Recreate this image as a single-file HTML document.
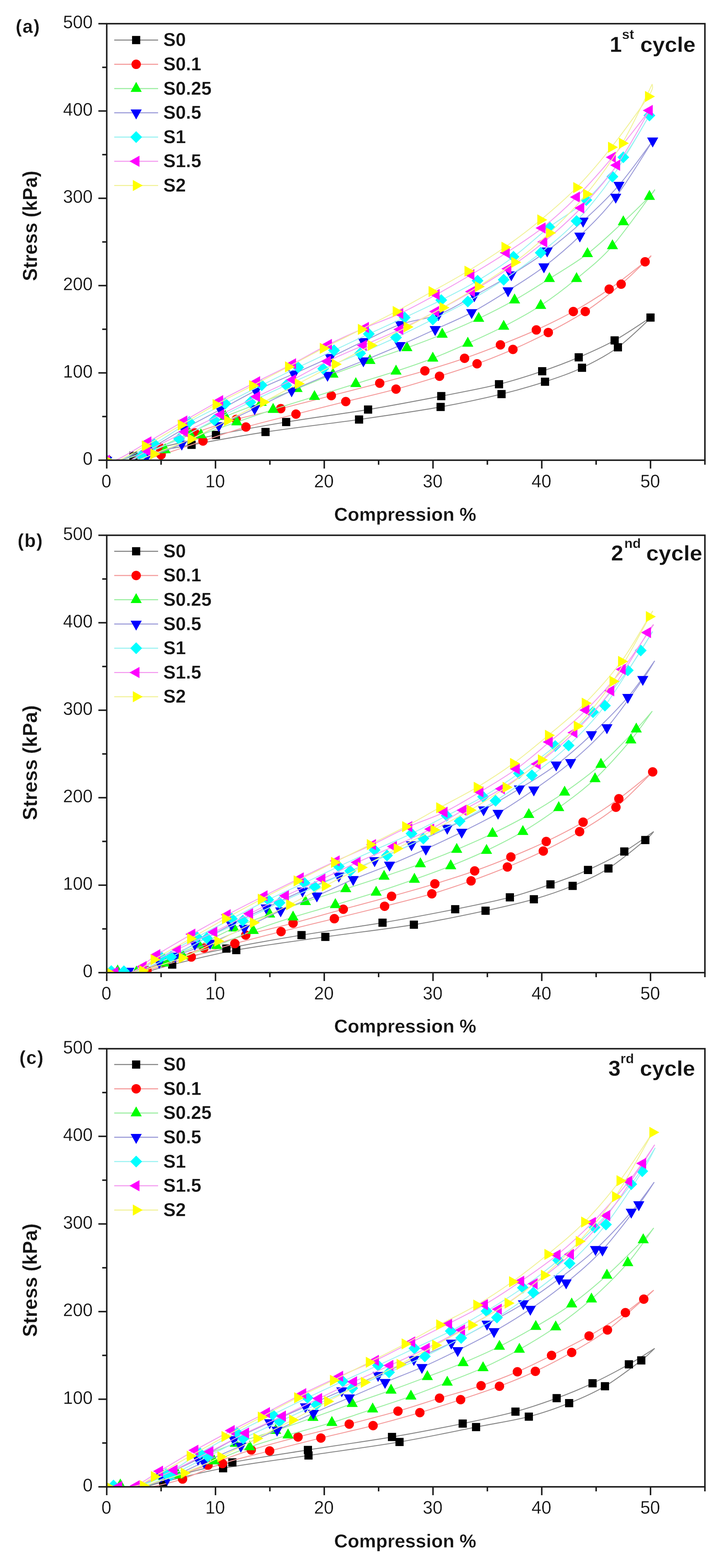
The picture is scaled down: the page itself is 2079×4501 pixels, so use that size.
<!DOCTYPE html><html><head><meta charset="utf-8"><title>Stress vs Compression</title>
<style>html,body{margin:0;padding:0;background:#fff;}svg{display:block;filter:blur(0.6px);}svg text{fill:#141414;stroke:#fff;stroke-width:0.4px;}</style></head><body>
<svg width="2079" height="4501" viewBox="0 0 2079 4501" font-family="'Liberation Sans', Arial, Helvetica, sans-serif" fill="#000">
<rect width="2079" height="4501" fill="#fff"/>
<clipPath id="clip0"><rect x="306.5" y="68" width="1717.7" height="1253"/></clipPath>
<g clip-path="url(#clip0)">
<path d="M306.5,1321C312.7,1320.8 323.2,1324.6 344,1319.7C364.8,1314.9 385.4,1304 431.4,1292.2C477.4,1280.3 555,1262 620,1248.6C685.1,1235.1 749,1223.6 821.8,1211.5C894.6,1199.3 982.7,1188.1 1057,1175.7C1131.2,1163.2 1204.5,1149.2 1267.1,1137.1C1329.8,1124.9 1384.7,1114.9 1433,1103C1481.3,1091.1 1518.8,1078.5 1556.9,1065.6C1595.1,1052.8 1627.2,1040.5 1661.9,1025.8C1696.5,1011 1730.6,996.2 1764.9,977.2C1799.3,958.1 1849.8,923.1 1868,911.5C1886.2,899.9 1873.2,908.2 1874.2,907.5" fill="none" stroke="#858585" stroke-width="2.6" stroke-linejoin="round"/>
<path d="M1874.2,907.5C1857.6,922.4 1808.1,972.3 1774.3,997C1740.5,1021.7 1706.1,1039.2 1671.3,1055.6C1636.4,1072.1 1603.6,1083.1 1565.1,1095.7C1526.6,1108.3 1490.1,1119.2 1440.1,1131.3C1390.2,1143.4 1333.4,1156 1265.3,1168.1C1197.1,1180.3 1114.8,1192.2 1031,1204.2C947.2,1216.2 842.6,1227.9 762.5,1240.1C682.3,1252.2 613.3,1265.5 550.1,1276.9C486.9,1288.3 415.3,1301.1 383,1308.5C350.7,1315.8 360.9,1318.9 356.5,1321" fill="none" stroke="#858585" stroke-width="2.6" stroke-linejoin="round"/>
<rect x="294.8" y="1309.2" width="23.5" height="23.5" fill="#000000"/>
<rect x="608.3" y="1236.8" width="23.5" height="23.5" fill="#000000"/>
<rect x="810" y="1199.7" width="23.5" height="23.5" fill="#000000"/>
<rect x="1045.2" y="1163.9" width="23.5" height="23.5" fill="#000000"/>
<rect x="1255.4" y="1125.3" width="23.5" height="23.5" fill="#000000"/>
<rect x="1421.2" y="1091.2" width="23.5" height="23.5" fill="#000000"/>
<rect x="1545.2" y="1053.9" width="23.5" height="23.5" fill="#000000"/>
<rect x="1650.1" y="1014" width="23.5" height="23.5" fill="#000000"/>
<rect x="1753.2" y="965.4" width="23.5" height="23.5" fill="#000000"/>
<rect x="1856.2" y="899.8" width="23.5" height="23.5" fill="#000000"/>
<rect x="371.3" y="1296.7" width="23.5" height="23.5" fill="#000000"/>
<rect x="538.3" y="1265.1" width="23.5" height="23.5" fill="#000000"/>
<rect x="750.7" y="1228.3" width="23.5" height="23.5" fill="#000000"/>
<rect x="1019.3" y="1192.5" width="23.5" height="23.5" fill="#000000"/>
<rect x="1253.5" y="1156.4" width="23.5" height="23.5" fill="#000000"/>
<rect x="1428.4" y="1119.5" width="23.5" height="23.5" fill="#000000"/>
<rect x="1553.3" y="1084" width="23.5" height="23.5" fill="#000000"/>
<rect x="1659.5" y="1043.9" width="23.5" height="23.5" fill="#000000"/>
<rect x="1762.6" y="985.2" width="23.5" height="23.5" fill="#000000"/>
<path d="M306.5,1321C313.8,1320.8 324.9,1325.8 350.2,1319.7C375.6,1313.6 423.7,1297.2 458.6,1284.4C493.5,1271.6 522.9,1256.2 559.5,1242.8C596.1,1229.4 637,1215.6 678.1,1204C719.3,1192.3 760.6,1184.3 806.2,1172.9C851.7,1161.5 904,1148 951.4,1135.8C998.8,1123.7 1045.6,1111.9 1090.4,1100C1135.1,1088.1 1179.4,1076.3 1220,1064.4C1260.6,1052.5 1297.8,1041 1334,1028.5C1370.1,1016.1 1402.7,1003.5 1437,990C1471.4,976.4 1505.2,963.1 1540.1,947.1C1575,931.1 1611.4,913.7 1646.3,894.2C1681.1,874.7 1715,853.9 1749.3,830.1C1783.7,806.3 1832.3,767.4 1852.4,751.4C1872.5,735.3 1867,736.8 1869.9,733.8" fill="none" stroke="#f49a9a" stroke-width="2.6" stroke-linejoin="round"/>
<path d="M1869.9,733.8C1855.5,747.5 1815.2,789.1 1783.7,815.8C1752.1,842.5 1715.5,871.1 1680.6,894.2C1645.7,917.3 1609.1,936.2 1574.4,954.4C1539.8,972.5 1507,988 1472.9,1003C1438.8,1018 1405,1031.5 1369.9,1044.3C1334.7,1057.2 1300.9,1067.8 1262.1,1079.9C1223.4,1092 1182.1,1104.9 1137.2,1117C1092.4,1129.2 1040.8,1140.9 992.9,1152.8C945,1164.8 897.7,1176.5 849.9,1188.7C802.1,1200.8 750.7,1212.9 706.2,1225.8C661.7,1238.6 623.5,1252.5 582.9,1265.9C542.3,1279.2 492.1,1296.5 462.6,1305.7C433.2,1314.9 415.8,1318.5 406.4,1321" fill="none" stroke="#f49a9a" stroke-width="2.6" stroke-linejoin="round"/>
<circle cx="306.5" cy="1321" r="13.5" fill="#ff0000"/>
<circle cx="458.6" cy="1284.4" r="13.5" fill="#ff0000"/>
<circle cx="559.5" cy="1242.8" r="13.5" fill="#ff0000"/>
<circle cx="678.1" cy="1204" r="13.5" fill="#ff0000"/>
<circle cx="806.2" cy="1172.9" r="13.5" fill="#ff0000"/>
<circle cx="951.4" cy="1135.8" r="13.5" fill="#ff0000"/>
<circle cx="1090.4" cy="1100" r="13.5" fill="#ff0000"/>
<circle cx="1220" cy="1064.4" r="13.5" fill="#ff0000"/>
<circle cx="1334" cy="1028.5" r="13.5" fill="#ff0000"/>
<circle cx="1437" cy="990" r="13.5" fill="#ff0000"/>
<circle cx="1540.1" cy="947.1" r="13.5" fill="#ff0000"/>
<circle cx="1646.3" cy="894.2" r="13.5" fill="#ff0000"/>
<circle cx="1749.3" cy="830.1" r="13.5" fill="#ff0000"/>
<circle cx="1852.4" cy="751.4" r="13.5" fill="#ff0000"/>
<circle cx="462.6" cy="1305.7" r="13.5" fill="#ff0000"/>
<circle cx="582.9" cy="1265.9" r="13.5" fill="#ff0000"/>
<circle cx="706.2" cy="1225.8" r="13.5" fill="#ff0000"/>
<circle cx="849.9" cy="1188.7" r="13.5" fill="#ff0000"/>
<circle cx="992.9" cy="1152.8" r="13.5" fill="#ff0000"/>
<circle cx="1137.2" cy="1117" r="13.5" fill="#ff0000"/>
<circle cx="1262.1" cy="1079.9" r="13.5" fill="#ff0000"/>
<circle cx="1369.9" cy="1044.3" r="13.5" fill="#ff0000"/>
<circle cx="1472.9" cy="1003" r="13.5" fill="#ff0000"/>
<circle cx="1574.4" cy="954.4" r="13.5" fill="#ff0000"/>
<circle cx="1680.6" cy="894.2" r="13.5" fill="#ff0000"/>
<circle cx="1783.7" cy="815.8" r="13.5" fill="#ff0000"/>
<path d="M306.5,1321C313.8,1320.8 327.8,1324.8 350.2,1319.7C372.6,1314.7 408.5,1303.7 440.8,1290.9C473.1,1278.2 509.5,1259.2 543.8,1243.3C578.2,1227.4 612.6,1210.3 646.9,1195.7C681.3,1181.1 715.6,1168.9 750,1155.6C784.3,1142.3 818.7,1129.3 853,1115.8C887.4,1102.2 921.2,1087.8 956.1,1074.4C991,1061 1026.9,1048 1062.3,1035.3C1097.7,1022.7 1133.8,1011 1168.4,998.5C1203.1,985.9 1235.6,973.9 1269.9,959.9C1304.3,945.9 1340,930.7 1374.6,914.3C1409.2,897.9 1443.8,880.4 1477.6,861.4C1511.5,842.4 1542.7,822.1 1577.6,800C1612.4,777.9 1651.5,755.7 1686.9,728.6C1722.3,701.4 1760.3,664.5 1789.9,637.1C1819.6,609.7 1849.8,579.7 1864.9,564.2C1880,548.7 1877.9,547.5 1880.5,544.1" fill="none" stroke="#9aeea0" stroke-width="2.6" stroke-linejoin="round"/>
<path d="M1880.5,544.1C1860.2,571.1 1796.2,663.1 1758.7,705.8C1721.2,748.4 1690,771.4 1655.6,800C1621.3,828.6 1587.5,854.3 1552.6,877.2C1517.7,900 1481.3,919 1446.4,937.1C1411.5,955.2 1377.3,970.5 1343.3,985.7C1309.4,1000.9 1277.1,1015.2 1242.8,1028.5C1208.4,1041.9 1174.1,1053.5 1137.2,1065.6C1100.4,1077.8 1060.7,1089.3 1021.7,1101.5C982.6,1113.6 942.6,1126.2 903,1138.6C863.4,1150.9 821.5,1163.5 784.3,1175.7C747.2,1187.8 714.6,1199.3 680,1211.5C645.4,1223.6 611.3,1235.3 577,1248.6C542.7,1261.9 502.1,1279.4 474.2,1291.4C446.3,1303.5 420.3,1316.1 409.6,1321" fill="none" stroke="#9aeea0" stroke-width="2.6" stroke-linejoin="round"/>
<polygon points="306.5,1301.9 322.5,1330.5 290.5,1330.5" fill="#00ff00"/>
<polygon points="543.8,1224.2 559.8,1252.8 527.8,1252.8" fill="#00ff00"/>
<polygon points="646.9,1176.6 662.9,1205.2 630.9,1205.2" fill="#00ff00"/>
<polygon points="750,1136.5 766,1165.1 734,1165.1" fill="#00ff00"/>
<polygon points="853,1096.7 869,1125.3 837,1125.3" fill="#00ff00"/>
<polygon points="956.1,1055.3 972.1,1083.9 940.1,1083.9" fill="#00ff00"/>
<polygon points="1062.3,1016.2 1078.3,1044.8 1046.3,1044.8" fill="#00ff00"/>
<polygon points="1168.4,979.4 1184.4,1008 1152.4,1008" fill="#00ff00"/>
<polygon points="1269.9,940.8 1285.9,969.4 1253.9,969.4" fill="#00ff00"/>
<polygon points="1374.6,895.2 1390.6,923.8 1358.6,923.8" fill="#00ff00"/>
<polygon points="1477.6,842.3 1493.6,870.9 1461.6,870.9" fill="#00ff00"/>
<polygon points="1577.6,780.9 1593.6,809.5 1561.6,809.5" fill="#00ff00"/>
<polygon points="1686.9,709.5 1702.9,738.1 1670.9,738.1" fill="#00ff00"/>
<polygon points="1789.9,618 1805.9,646.6 1773.9,646.6" fill="#00ff00"/>
<polygon points="1864.9,545.1 1880.9,573.7 1848.9,573.7" fill="#00ff00"/>
<polygon points="474.2,1272.4 490.2,1301 458.2,1301" fill="#00ff00"/>
<polygon points="577,1229.5 593,1258.1 561,1258.1" fill="#00ff00"/>
<polygon points="680,1192.4 696,1221 664,1221" fill="#00ff00"/>
<polygon points="784.3,1156.6 800.3,1185.2 768.3,1185.2" fill="#00ff00"/>
<polygon points="903,1119.5 919,1148.1 887,1148.1" fill="#00ff00"/>
<polygon points="1021.7,1082.4 1037.7,1111 1005.7,1111" fill="#00ff00"/>
<polygon points="1137.2,1046.6 1153.2,1075.2 1121.2,1075.2" fill="#00ff00"/>
<polygon points="1242.8,1009.5 1258.8,1038.1 1226.8,1038.1" fill="#00ff00"/>
<polygon points="1343.3,966.6 1359.3,995.2 1327.3,995.2" fill="#00ff00"/>
<polygon points="1446.4,918 1462.4,946.6 1430.4,946.6" fill="#00ff00"/>
<polygon points="1552.6,858.1 1568.6,886.7 1536.6,886.7" fill="#00ff00"/>
<polygon points="1655.6,780.9 1671.6,809.5 1639.6,809.5" fill="#00ff00"/>
<polygon points="1758.7,686.7 1774.7,715.3 1742.7,715.3" fill="#00ff00"/>
<path d="M306.5,1321C313.3,1320.8 326.8,1325.2 347.1,1319.7C367.4,1314.3 398.1,1303.2 428.3,1288.4C458.5,1273.7 494.1,1250.1 528.2,1231.3C562.3,1212.5 598.5,1193.9 632.9,1175.7C667.2,1157.4 699.2,1138.6 734.4,1121.5C769.5,1104.4 808,1088.9 843.7,1072.9C879.3,1057 915,1041.3 948.3,1025.8C981.6,1010.3 1010,995.7 1043.5,979.9C1077.1,964.2 1113.8,944.1 1149.7,931.3C1185.6,918.5 1223.6,916.8 1259,903C1294.4,889.2 1327.2,867.7 1362.1,848.6C1396.9,829.5 1433.4,809.9 1468.3,788.5C1503.1,767 1537,745.7 1571.3,720.1C1605.7,694.4 1640,665.8 1674.4,634.4C1708.7,602.9 1744.1,570 1777.4,531.6C1810.7,493.3 1858.1,425.5 1874.2,404.3" fill="none" stroke="#9a9ad8" stroke-width="2.6" stroke-linejoin="round"/>
<path d="M1874.2,404.3C1856.5,431.2 1802.9,520.2 1768.1,565.7C1733.2,611.2 1699.4,643.9 1665,677.2C1630.7,710.5 1596.3,739.5 1561.9,765.7C1527.6,791.9 1493.5,812.4 1458.9,834.3C1424.3,856.2 1389.1,878.4 1354.3,897C1319.4,915.5 1283.9,929.9 1249.6,945.6C1215.3,961.3 1182.8,976.5 1148.5,991.5C1114.1,1006.5 1078.2,1021.3 1043.5,1035.6C1008.9,1049.8 974.8,1062.6 940.5,1076.9C906.1,1091.2 872.3,1105.5 837.4,1121.5C802.5,1137.5 766.1,1156.2 731.2,1172.9C696.4,1189.6 663,1204.6 628.2,1221.5C593.3,1238.4 556.9,1259 522,1274.4C487.1,1289.8 441.3,1306.2 418.9,1314C396.5,1321.8 392.9,1319.8 387.7,1321" fill="none" stroke="#9a9ad8" stroke-width="2.6" stroke-linejoin="round"/>
<polygon points="306.5,1340.1 322.5,1311.5 290.5,1311.5" fill="#0000ff"/>
<polygon points="428.3,1307.5 444.3,1278.9 412.3,1278.9" fill="#0000ff"/>
<polygon points="528.2,1250.4 544.2,1221.8 512.2,1221.8" fill="#0000ff"/>
<polygon points="632.9,1194.7 648.9,1166.1 616.9,1166.1" fill="#0000ff"/>
<polygon points="734.4,1140.6 750.4,1112 718.4,1112" fill="#0000ff"/>
<polygon points="843.7,1092 859.7,1063.4 827.7,1063.4" fill="#0000ff"/>
<polygon points="948.3,1044.9 964.3,1016.3 932.3,1016.3" fill="#0000ff"/>
<polygon points="1043.5,999 1059.5,970.4 1027.5,970.4" fill="#0000ff"/>
<polygon points="1149.7,950.4 1165.7,921.8 1133.7,921.8" fill="#0000ff"/>
<polygon points="1259,922.1 1275,893.5 1243,893.5" fill="#0000ff"/>
<polygon points="1362.1,867.7 1378.1,839.1 1346.1,839.1" fill="#0000ff"/>
<polygon points="1468.3,807.5 1484.3,778.9 1452.3,778.9" fill="#0000ff"/>
<polygon points="1571.3,739.1 1587.3,710.5 1555.3,710.5" fill="#0000ff"/>
<polygon points="1674.4,653.4 1690.4,624.8 1658.4,624.8" fill="#0000ff"/>
<polygon points="1777.4,550.7 1793.4,522.1 1761.4,522.1" fill="#0000ff"/>
<polygon points="1874.2,423.4 1890.2,394.8 1858.2,394.8" fill="#0000ff"/>
<polygon points="418.9,1333 434.9,1304.4 402.9,1304.4" fill="#0000ff"/>
<polygon points="522,1293.5 538,1264.9 506,1264.9" fill="#0000ff"/>
<polygon points="628.2,1240.6 644.2,1212 612.2,1212" fill="#0000ff"/>
<polygon points="731.2,1192 747.2,1163.4 715.2,1163.4" fill="#0000ff"/>
<polygon points="837.4,1140.6 853.4,1112 821.4,1112" fill="#0000ff"/>
<polygon points="940.5,1096 956.5,1067.4 924.5,1067.4" fill="#0000ff"/>
<polygon points="1043.5,1054.6 1059.5,1026 1027.5,1026" fill="#0000ff"/>
<polygon points="1148.5,1010.5 1164.5,981.9 1132.5,981.9" fill="#0000ff"/>
<polygon points="1249.6,964.7 1265.6,936.1 1233.6,936.1" fill="#0000ff"/>
<polygon points="1354.3,916.1 1370.3,887.5 1338.3,887.5" fill="#0000ff"/>
<polygon points="1458.9,853.4 1474.9,824.8 1442.9,824.8" fill="#0000ff"/>
<polygon points="1561.9,784.7 1577.9,756.1 1545.9,756.1" fill="#0000ff"/>
<polygon points="1665,696.3 1681,667.7 1649,667.7" fill="#0000ff"/>
<polygon points="1768.1,584.8 1784.1,556.2 1752.1,556.2" fill="#0000ff"/>
<path d="M306.5,1321C312.7,1320.8 321.2,1327.5 344,1319.7C366.7,1312 409.7,1292.4 443,1274.4C476.3,1256.3 509.9,1230.8 543.8,1211.5C577.8,1192.2 612.3,1176.2 646.9,1158.6C681.5,1141 716.7,1123.1 751.5,1105.7C786.4,1088.4 821.5,1071 856.1,1054.4C890.8,1037.7 925.4,1021.7 959.2,1005.7C993,989.8 1025.3,974.3 1059.1,958.6C1093,942.9 1127.5,927.7 1162.2,911.5C1196.9,895.3 1232.3,879 1267.1,861.4C1302,843.8 1336.9,826.5 1371.4,805.8C1406,785.1 1440.1,762.7 1474.5,737.1C1508.9,711.5 1542.7,679 1577.6,651.9C1612.4,624.7 1648.3,607.6 1683.7,574.2C1719.1,540.8 1759.7,491.9 1789.9,451.4C1820.1,410.9 1852.4,351.4 1864.9,331.4" fill="none" stroke="#9af2f2" stroke-width="2.6" stroke-linejoin="round"/>
<path d="M1864.9,331.4C1847.2,360.7 1793.6,456.6 1758.7,507.1C1723.8,557.5 1690,597.9 1655.6,634.4C1621.3,670.8 1587.5,697.5 1552.6,725.6C1517.7,753.7 1481.3,779.7 1446.4,803C1411.5,826.3 1377.3,846.4 1343.3,865.4C1309.4,884.4 1277.1,899.8 1242.8,917C1208.4,934.2 1172,952.5 1137.2,968.7C1102.4,984.9 1069,999.3 1034.2,1014.3C999.3,1029.3 963.4,1043.4 928,1058.6C892.6,1073.9 856.7,1089.8 821.8,1105.7C786.9,1121.7 753.1,1137.7 718.7,1154.4C684.4,1171 649.8,1188.1 615.7,1205.7C581.6,1223.3 549.2,1243 514.2,1260.1C479.2,1277.2 428.5,1298.3 405.8,1308.5C383.2,1318.6 382.9,1318.9 378.3,1321" fill="none" stroke="#9af2f2" stroke-width="2.6" stroke-linejoin="round"/>
<polygon points="306.5,1304 323.5,1321 306.5,1338 289.5,1321" fill="#00ffff"/>
<polygon points="443,1257.4 460,1274.4 443,1291.4 426,1274.4" fill="#00ffff"/>
<polygon points="543.8,1194.5 560.8,1211.5 543.8,1228.5 526.8,1211.5" fill="#00ffff"/>
<polygon points="646.9,1141.6 663.9,1158.6 646.9,1175.6 629.9,1158.6" fill="#00ffff"/>
<polygon points="751.5,1088.7 768.5,1105.7 751.5,1122.7 734.5,1105.7" fill="#00ffff"/>
<polygon points="856.1,1037.4 873.1,1054.4 856.1,1071.4 839.1,1054.4" fill="#00ffff"/>
<polygon points="959.2,988.7 976.2,1005.7 959.2,1022.7 942.2,1005.7" fill="#00ffff"/>
<polygon points="1059.1,941.6 1076.1,958.6 1059.1,975.6 1042.1,958.6" fill="#00ffff"/>
<polygon points="1162.2,894.5 1179.2,911.5 1162.2,928.5 1145.2,911.5" fill="#00ffff"/>
<polygon points="1267.1,844.4 1284.1,861.4 1267.1,878.4 1250.1,861.4" fill="#00ffff"/>
<polygon points="1371.4,788.8 1388.4,805.8 1371.4,822.8 1354.4,805.8" fill="#00ffff"/>
<polygon points="1474.5,720.1 1491.5,737.1 1474.5,754.1 1457.5,737.1" fill="#00ffff"/>
<polygon points="1577.6,634.9 1594.6,651.9 1577.6,668.9 1560.6,651.9" fill="#00ffff"/>
<polygon points="1683.7,557.2 1700.7,574.2 1683.7,591.2 1666.7,574.2" fill="#00ffff"/>
<polygon points="1789.9,434.4 1806.9,451.4 1789.9,468.4 1772.9,451.4" fill="#00ffff"/>
<polygon points="1864.9,314.4 1881.9,331.4 1864.9,348.4 1847.9,331.4" fill="#00ffff"/>
<polygon points="405.8,1291.5 422.8,1308.5 405.8,1325.5 388.8,1308.5" fill="#00ffff"/>
<polygon points="514.2,1243.1 531.2,1260.1 514.2,1277.1 497.2,1260.1" fill="#00ffff"/>
<polygon points="615.7,1188.7 632.7,1205.7 615.7,1222.7 598.7,1205.7" fill="#00ffff"/>
<polygon points="718.7,1137.4 735.7,1154.4 718.7,1171.4 701.7,1154.4" fill="#00ffff"/>
<polygon points="821.8,1088.7 838.8,1105.7 821.8,1122.7 804.8,1105.7" fill="#00ffff"/>
<polygon points="928,1041.6 945,1058.6 928,1075.6 911,1058.6" fill="#00ffff"/>
<polygon points="1034.2,997.3 1051.2,1014.3 1034.2,1031.3 1017.2,1014.3" fill="#00ffff"/>
<polygon points="1137.2,951.7 1154.2,968.7 1137.2,985.7 1120.2,968.7" fill="#00ffff"/>
<polygon points="1242.8,900 1259.8,917 1242.8,934 1225.8,917" fill="#00ffff"/>
<polygon points="1343.3,848.4 1360.3,865.4 1343.3,882.4 1326.3,865.4" fill="#00ffff"/>
<polygon points="1446.4,786 1463.4,803 1446.4,820 1429.4,803" fill="#00ffff"/>
<polygon points="1552.6,708.6 1569.6,725.6 1552.6,742.6 1535.6,725.6" fill="#00ffff"/>
<polygon points="1655.6,617.4 1672.6,634.4 1655.6,651.4 1638.6,634.4" fill="#00ffff"/>
<polygon points="1758.7,490.1 1775.7,507.1 1758.7,524.1 1741.7,507.1" fill="#00ffff"/>
<path d="M306.5,1321C311.7,1320.6 318,1327.2 337.7,1318.5C357.5,1309.8 393.4,1287 425.2,1268.6C456.9,1250.3 493.9,1228.2 528.2,1208.5C562.6,1188.7 596.4,1168.9 631.3,1150.1C666.2,1131.3 702.6,1113.3 737.5,1095.7C772.3,1078.1 806.2,1062.2 840.5,1044.3C874.9,1026.5 908.7,1006.1 943.6,988.7C978.5,971.3 1015.6,954.9 1049.8,940.1C1083.9,925.3 1114.6,915.7 1148.5,900C1182.3,884.2 1218.7,864.2 1252.8,845.6C1286.8,827 1319.1,808.5 1352.7,788.5C1386.3,768.5 1420.2,747.9 1454.2,725.6C1488.2,703.2 1523.4,681.1 1556.9,654.4C1590.5,627.8 1622,599.5 1655.6,565.7C1689.3,531.9 1723.8,492.9 1758.7,451.4C1793.6,410 1847.2,339.5 1864.9,317.1" fill="none" stroke="#f49af0" stroke-width="2.6" stroke-linejoin="round"/>
<path d="M1864.9,317.1C1849.3,343.3 1804,427.6 1771.2,474.2C1738.4,520.9 1703,560.3 1668.1,597C1633.3,633.7 1596.8,665.4 1561.9,694.5C1527.1,723.6 1493.5,747.7 1458.9,771.4C1424.3,795.2 1388.9,816.6 1354.3,837.1C1319.7,857.6 1285.5,876.1 1251.2,894.2C1216.9,912.3 1183.1,929.4 1148.5,945.6C1113.8,961.8 1078.2,976.2 1043.5,991.5C1008.9,1006.7 974.3,1020.7 940.5,1037.1C906.6,1053.5 874.4,1073 840.5,1089.9C806.7,1106.9 771.8,1121.9 737.5,1138.6C703.1,1155.2 668.8,1173 634.4,1189.9C600.1,1206.9 566.6,1222.7 531.4,1240.1C496.1,1257.4 449,1280.7 423,1294.2C397,1307.7 383.2,1316.5 375.2,1321" fill="none" stroke="#f49af0" stroke-width="2.6" stroke-linejoin="round"/>
<polygon points="287.4,1321 316,1305 316,1337" fill="#ff00ff"/>
<polygon points="406.1,1268.6 434.7,1252.6 434.7,1284.6" fill="#ff00ff"/>
<polygon points="509.2,1208.5 537.8,1192.5 537.8,1224.5" fill="#ff00ff"/>
<polygon points="612.2,1150.1 640.8,1134.1 640.8,1166.1" fill="#ff00ff"/>
<polygon points="718.4,1095.7 747,1079.7 747,1111.7" fill="#ff00ff"/>
<polygon points="821.5,1044.3 850.1,1028.3 850.1,1060.3" fill="#ff00ff"/>
<polygon points="924.5,988.7 953.1,972.7 953.1,1004.7" fill="#ff00ff"/>
<polygon points="1030.7,940.1 1059.3,924.1 1059.3,956.1" fill="#ff00ff"/>
<polygon points="1129.4,900 1158,884 1158,916" fill="#ff00ff"/>
<polygon points="1233.7,845.6 1262.3,829.6 1262.3,861.6" fill="#ff00ff"/>
<polygon points="1333.6,788.5 1362.2,772.5 1362.2,804.5" fill="#ff00ff"/>
<polygon points="1435.1,725.6 1463.7,709.6 1463.7,741.6" fill="#ff00ff"/>
<polygon points="1537.9,654.4 1566.5,638.4 1566.5,670.4" fill="#ff00ff"/>
<polygon points="1636.6,565.7 1665.2,549.7 1665.2,581.7" fill="#ff00ff"/>
<polygon points="1739.6,451.4 1768.2,435.4 1768.2,467.4" fill="#ff00ff"/>
<polygon points="1845.8,317.1 1874.4,301.1 1874.4,333.1" fill="#ff00ff"/>
<polygon points="403.9,1294.2 432.5,1278.2 432.5,1310.2" fill="#ff00ff"/>
<polygon points="512.3,1240.1 540.9,1224.1 540.9,1256.1" fill="#ff00ff"/>
<polygon points="615.3,1189.9 643.9,1173.9 643.9,1205.9" fill="#ff00ff"/>
<polygon points="718.4,1138.6 747,1122.6 747,1154.6" fill="#ff00ff"/>
<polygon points="821.5,1089.9 850.1,1073.9 850.1,1105.9" fill="#ff00ff"/>
<polygon points="921.4,1037.1 950,1021.1 950,1053.1" fill="#ff00ff"/>
<polygon points="1024.5,991.5 1053.1,975.5 1053.1,1007.5" fill="#ff00ff"/>
<polygon points="1129.4,945.6 1158,929.6 1158,961.6" fill="#ff00ff"/>
<polygon points="1232.1,894.2 1260.7,878.2 1260.7,910.2" fill="#ff00ff"/>
<polygon points="1335.2,837.1 1363.8,821.1 1363.8,853.1" fill="#ff00ff"/>
<polygon points="1439.8,771.4 1468.4,755.4 1468.4,787.4" fill="#ff00ff"/>
<polygon points="1542.9,694.5 1571.5,678.5 1571.5,710.5" fill="#ff00ff"/>
<polygon points="1649.1,597 1677.7,581 1677.7,613" fill="#ff00ff"/>
<polygon points="1752.1,474.2 1780.7,458.2 1780.7,490.2" fill="#ff00ff"/>
<path d="M306.5,1321C312.7,1320.8 325.6,1326.6 344,1319.7C362.4,1312.9 387.7,1296.5 417.1,1279.9C446.4,1263.3 486.3,1239.8 520.1,1220C553.9,1200.3 585.9,1180.2 620,1161.4C654.2,1142.5 690.3,1125.1 725,1107C759.6,1088.9 794.2,1070.7 828,1052.9C861.9,1035 893.1,1017.9 928,1000C962.9,982.1 1002.4,963.2 1037.3,945.6C1072.2,928 1103.4,912.3 1137.2,894.2C1171.1,876.1 1205.9,856.4 1240.3,837.1C1274.6,817.8 1308.5,799.7 1343.3,778.5C1378.2,757.2 1414.6,734.3 1449.5,709.8C1484.4,685.3 1518.2,659.9 1552.6,631.3C1586.9,602.8 1621.8,573.4 1655.6,538.6C1689.5,503.9 1721.2,466.5 1755.6,422.8C1789.9,379.2 1842.2,307.2 1861.8,277C1881.3,246.8 1871.1,247.3 1873,241.4" fill="none" stroke="#f2f29a" stroke-width="2.6" stroke-linejoin="round"/>
<path d="M1873,241.4C1858.6,269.7 1818.3,358.7 1786.8,411.3C1755.3,463.9 1718.6,514.3 1683.7,557.2C1648.9,600.1 1611.9,636.1 1577.6,668.7C1543.2,701.3 1511.7,727.2 1477.6,752.9C1443.5,778.6 1407.4,801.1 1373,822.8C1338.7,844.5 1305.6,863.7 1271.5,883C1237.4,902.2 1202.8,920.5 1168.4,938.6C1134.1,956.7 1099.7,973.6 1065.4,991.5C1031,1009.3 997.2,1027.3 962.3,1045.6C927.5,1063.9 890.5,1083.3 856.1,1101.5C821.8,1119.6 790,1136.8 756.2,1154.4C722.4,1171.9 687.8,1189.4 653.2,1207C618.5,1224.6 583.8,1244.1 548.5,1260.1C513.2,1276.1 466.7,1292.8 441.4,1303C416.2,1313.1 404.5,1318 397.1,1321" fill="none" stroke="#f2f29a" stroke-width="2.6" stroke-linejoin="round"/>
<polygon points="325.6,1321 297,1305 297,1337" fill="#ffff00"/>
<polygon points="436.1,1279.9 407.5,1263.9 407.5,1295.9" fill="#ffff00"/>
<polygon points="539.2,1220 510.6,1204 510.6,1236" fill="#ffff00"/>
<polygon points="639.1,1161.4 610.5,1145.4 610.5,1177.4" fill="#ffff00"/>
<polygon points="744,1107 715.4,1091 715.4,1123" fill="#ffff00"/>
<polygon points="847.1,1052.9 818.5,1036.9 818.5,1068.9" fill="#ffff00"/>
<polygon points="947,1000 918.4,984 918.4,1016" fill="#ffff00"/>
<polygon points="1056.3,945.6 1027.7,929.6 1027.7,961.6" fill="#ffff00"/>
<polygon points="1156.3,894.2 1127.7,878.2 1127.7,910.2" fill="#ffff00"/>
<polygon points="1259.3,837.1 1230.7,821.1 1230.7,853.1" fill="#ffff00"/>
<polygon points="1362.4,778.5 1333.8,762.5 1333.8,794.5" fill="#ffff00"/>
<polygon points="1468.6,709.8 1440,693.8 1440,725.8" fill="#ffff00"/>
<polygon points="1571.6,631.3 1543,615.3 1543,647.3" fill="#ffff00"/>
<polygon points="1674.7,538.6 1646.1,522.6 1646.1,554.6" fill="#ffff00"/>
<polygon points="1774.6,422.8 1746,406.8 1746,438.8" fill="#ffff00"/>
<polygon points="1880.8,277 1852.2,261 1852.2,293" fill="#ffff00"/>
<polygon points="460.5,1303 431.9,1287 431.9,1319" fill="#ffff00"/>
<polygon points="567.6,1260.1 539,1244.1 539,1276.1" fill="#ffff00"/>
<polygon points="672.2,1207 643.6,1191 643.6,1223" fill="#ffff00"/>
<polygon points="775.3,1154.4 746.7,1138.4 746.7,1170.4" fill="#ffff00"/>
<polygon points="875.2,1101.5 846.6,1085.5 846.6,1117.5" fill="#ffff00"/>
<polygon points="981.4,1045.6 952.8,1029.6 952.8,1061.6" fill="#ffff00"/>
<polygon points="1084.5,991.5 1055.9,975.5 1055.9,1007.5" fill="#ffff00"/>
<polygon points="1187.5,938.6 1158.9,922.6 1158.9,954.6" fill="#ffff00"/>
<polygon points="1290.6,883 1262,867 1262,899" fill="#ffff00"/>
<polygon points="1392.1,822.8 1363.5,806.8 1363.5,838.8" fill="#ffff00"/>
<polygon points="1496.7,752.9 1468.1,736.9 1468.1,768.9" fill="#ffff00"/>
<polygon points="1596.6,668.7 1568,652.7 1568,684.7" fill="#ffff00"/>
<polygon points="1702.8,557.2 1674.2,541.2 1674.2,573.2" fill="#ffff00"/>
<polygon points="1805.9,411.3 1777.3,395.3 1777.3,427.3" fill="#ffff00"/>
</g>
<rect x="306.5" y="68" width="1717.7" height="1253" fill="none" stroke="#1c1c1c" stroke-width="4.3"/>
<line x1="282.5" y1="1321" x2="306.5" y2="1321" stroke="#1c1c1c" stroke-width="4.3"/>
<line x1="293.5" y1="1195.7" x2="306.5" y2="1195.7" stroke="#1c1c1c" stroke-width="4.3"/>
<line x1="282.5" y1="1070.4" x2="306.5" y2="1070.4" stroke="#1c1c1c" stroke-width="4.3"/>
<line x1="293.5" y1="945.1" x2="306.5" y2="945.1" stroke="#1c1c1c" stroke-width="4.3"/>
<line x1="282.5" y1="819.8" x2="306.5" y2="819.8" stroke="#1c1c1c" stroke-width="4.3"/>
<line x1="293.5" y1="694.5" x2="306.5" y2="694.5" stroke="#1c1c1c" stroke-width="4.3"/>
<line x1="282.5" y1="569.2" x2="306.5" y2="569.2" stroke="#1c1c1c" stroke-width="4.3"/>
<line x1="293.5" y1="443.9" x2="306.5" y2="443.9" stroke="#1c1c1c" stroke-width="4.3"/>
<line x1="282.5" y1="318.6" x2="306.5" y2="318.6" stroke="#1c1c1c" stroke-width="4.3"/>
<line x1="293.5" y1="193.3" x2="306.5" y2="193.3" stroke="#1c1c1c" stroke-width="4.3"/>
<line x1="282.5" y1="68" x2="306.5" y2="68" stroke="#1c1c1c" stroke-width="4.3"/>
<line x1="306.5" y1="1321" x2="306.5" y2="1345" stroke="#1c1c1c" stroke-width="4.3"/>
<line x1="462.6" y1="1321" x2="462.6" y2="1334" stroke="#1c1c1c" stroke-width="4.3"/>
<line x1="618.8" y1="1321" x2="618.8" y2="1345" stroke="#1c1c1c" stroke-width="4.3"/>
<line x1="775" y1="1321" x2="775" y2="1334" stroke="#1c1c1c" stroke-width="4.3"/>
<line x1="931.1" y1="1321" x2="931.1" y2="1345" stroke="#1c1c1c" stroke-width="4.3"/>
<line x1="1087.2" y1="1321" x2="1087.2" y2="1334" stroke="#1c1c1c" stroke-width="4.3"/>
<line x1="1243.4" y1="1321" x2="1243.4" y2="1345" stroke="#1c1c1c" stroke-width="4.3"/>
<line x1="1399.5" y1="1321" x2="1399.5" y2="1334" stroke="#1c1c1c" stroke-width="4.3"/>
<line x1="1555.7" y1="1321" x2="1555.7" y2="1345" stroke="#1c1c1c" stroke-width="4.3"/>
<line x1="1711.8" y1="1321" x2="1711.8" y2="1334" stroke="#1c1c1c" stroke-width="4.3"/>
<line x1="1868" y1="1321" x2="1868" y2="1345" stroke="#1c1c1c" stroke-width="4.3"/>
<line x1="2024.2" y1="1321" x2="2024.2" y2="1334" stroke="#1c1c1c" stroke-width="4.3"/>
<g font-size="51"><text x="266" y="1334.2" text-anchor="end">0</text><text x="266" y="1083.6" text-anchor="end">100</text><text x="266" y="833" text-anchor="end">200</text><text x="266" y="582.4" text-anchor="end">300</text><text x="266" y="331.8" text-anchor="end">400</text><text x="266" y="81.2" text-anchor="end">500</text><text x="305.5" y="1399.3" text-anchor="middle">0</text><text x="617.8" y="1399.3" text-anchor="middle">10</text><text x="930.1" y="1399.3" text-anchor="middle">20</text><text x="1242.4" y="1399.3" text-anchor="middle">30</text><text x="1554.7" y="1399.3" text-anchor="middle">40</text><text x="1867" y="1399.3" text-anchor="middle">50</text></g>
<text x="1163.6" y="1495" font-weight="bold" font-size="54" text-anchor="middle">Compression %</text>
<text font-weight="bold" font-size="54.5" text-anchor="middle" textLength="316.8" lengthAdjust="spacingAndGlyphs" transform="translate(105.8,648.4) scale(1.05,1) rotate(-90)">Stress (kPa)</text>
<text x="45" y="94.4" font-weight="bold" font-size="53" letter-spacing="2">(a)</text>
<line x1="328" y1="115" x2="454" y2="115" stroke="#858585" stroke-width="3"/>
<rect x="379.2" y="103.2" width="23.5" height="23.5" fill="#000000"/>
<text x="469" y="132.4" font-weight="bold" font-size="53">S0</text>
<line x1="328" y1="184.6" x2="454" y2="184.6" stroke="#f49a9a" stroke-width="3"/>
<circle cx="391" cy="184.6" r="13.5" fill="#ff0000"/>
<text x="469" y="202" font-weight="bold" font-size="53">S0.1</text>
<line x1="328" y1="254.2" x2="454" y2="254.2" stroke="#9aeea0" stroke-width="3"/>
<polygon points="391,235.1 407,263.7 375,263.7" fill="#00ff00"/>
<text x="469" y="271.6" font-weight="bold" font-size="53">S0.25</text>
<line x1="328" y1="323.8" x2="454" y2="323.8" stroke="#9a9ad8" stroke-width="3"/>
<polygon points="391,342.9 407,314.3 375,314.3" fill="#0000ff"/>
<text x="469" y="341.2" font-weight="bold" font-size="53">S0.5</text>
<line x1="328" y1="393.4" x2="454" y2="393.4" stroke="#9af2f2" stroke-width="3"/>
<polygon points="391,376.4 408,393.4 391,410.4 374,393.4" fill="#00ffff"/>
<text x="469" y="410.8" font-weight="bold" font-size="53">S1</text>
<line x1="328" y1="463" x2="454" y2="463" stroke="#f49af0" stroke-width="3"/>
<polygon points="371.9,463 400.5,447 400.5,479" fill="#ff00ff"/>
<text x="469" y="480.4" font-weight="bold" font-size="53">S1.5</text>
<line x1="328" y1="532.6" x2="454" y2="532.6" stroke="#f2f29a" stroke-width="3"/>
<polygon points="410.1,532.6 381.5,516.6 381.5,548.6" fill="#ffff00"/>
<text x="469" y="550" font-weight="bold" font-size="53">S2</text>
<text font-weight="bold" font-size="63"><tspan x="1750.7" y="149">1</tspan><tspan x="1786.1" y="112.2" font-size="39">st</tspan><tspan x="1838.5" y="149" font-size="62" textLength="158.8" lengthAdjust="spacingAndGlyphs">cycle</tspan></text>
<clipPath id="clip1"><rect x="306.5" y="1536.5" width="1717.7" height="1255.5"/></clipPath>
<g clip-path="url(#clip1)">
<path d="M306.5,2792C321.1,2791.8 365.3,2795.8 393.9,2790.7C422.6,2785.7 435.6,2773.2 478.3,2761.9C520.9,2750.6 585.4,2735.9 650,2722.9C714.6,2710 791.1,2696.7 865.8,2684.3C940.6,2671.9 1024.9,2661 1098.5,2648.6C1172,2636.2 1246.2,2622.1 1307.1,2610C1368.1,2597.8 1418.6,2587.7 1464.2,2575.8C1509.8,2563.9 1543.3,2551.7 1580.7,2538.6C1618.1,2525.5 1653.1,2512.9 1688.4,2497.2C1723.8,2481.5 1761.3,2462.6 1792.7,2444.2C1824.2,2425.9 1863,2396.7 1877.1,2387.2" fill="none" stroke="#858585" stroke-width="2.6" stroke-linejoin="round"/>
<path d="M1877.1,2387.2C1873,2391.2 1874.7,2393.7 1853,2411.3C1831.4,2429 1781.9,2471 1747.1,2492.9C1712.4,2514.9 1680.1,2528.2 1644.4,2542.9C1608.7,2557.6 1574.6,2569.4 1532.9,2581.3C1491.2,2593.2 1451.7,2602 1394.2,2614.2C1336.8,2626.4 1265.1,2641.9 1188.4,2654.4C1111.8,2666.9 1019.2,2677.2 934.2,2689.3C849.2,2701.4 751.7,2713.9 678.4,2727.2C605.2,2740.5 538.3,2758.1 494.5,2768.9C450.7,2779.7 428.9,2788.1 415.8,2792" fill="none" stroke="#858585" stroke-width="2.6" stroke-linejoin="round"/>
<rect x="638.3" y="2711.2" width="23.5" height="23.5" fill="#000000"/>
<rect x="854.1" y="2672.5" width="23.5" height="23.5" fill="#000000"/>
<rect x="1086.7" y="2636.9" width="23.5" height="23.5" fill="#000000"/>
<rect x="1295.4" y="2598.2" width="23.5" height="23.5" fill="#000000"/>
<rect x="1452.4" y="2564.1" width="23.5" height="23.5" fill="#000000"/>
<rect x="1568.9" y="2526.9" width="23.5" height="23.5" fill="#000000"/>
<rect x="1676.7" y="2485.5" width="23.5" height="23.5" fill="#000000"/>
<rect x="1781" y="2432.5" width="23.5" height="23.5" fill="#000000"/>
<rect x="482.8" y="2757.1" width="23.5" height="23.5" fill="#000000"/>
<rect x="666.7" y="2715.5" width="23.5" height="23.5" fill="#000000"/>
<rect x="922.5" y="2677.6" width="23.5" height="23.5" fill="#000000"/>
<rect x="1176.7" y="2642.6" width="23.5" height="23.5" fill="#000000"/>
<rect x="1382.5" y="2602.5" width="23.5" height="23.5" fill="#000000"/>
<rect x="1521.2" y="2569.6" width="23.5" height="23.5" fill="#000000"/>
<rect x="1632.6" y="2531.2" width="23.5" height="23.5" fill="#000000"/>
<rect x="1735.4" y="2481.2" width="23.5" height="23.5" fill="#000000"/>
<rect x="1841.3" y="2399.6" width="23.5" height="23.5" fill="#000000"/>
<path d="M306.5,2792C320,2791.8 360.6,2795.8 387.7,2790.7C414.8,2785.7 435.9,2773.4 468.9,2761.9C501.9,2750.3 546.2,2734.4 585.7,2721.4C625.2,2708.5 663,2696.2 705.6,2684.3C748.2,2672.4 794.8,2662.3 841.5,2649.9C888.2,2637.5 938.6,2622.8 985.8,2610C1032.9,2597.1 1080.6,2584.9 1124.4,2572.8C1168.2,2560.7 1208.9,2549.3 1248.7,2537.1C1288.5,2525 1326.6,2512.8 1363,2500C1399.4,2487.1 1432.8,2474.1 1467,2460C1501.3,2446 1533.9,2432.3 1568.5,2415.6C1603.1,2398.9 1639.6,2380.6 1674.4,2360.1C1709.1,2339.6 1743.8,2316.9 1777.1,2292.8C1810.4,2268.7 1858.1,2228.6 1874.2,2215.7" fill="none" stroke="#f49a9a" stroke-width="2.6" stroke-linejoin="round"/>
<path d="M1874.2,2215.7C1856.7,2232.6 1803.7,2288.6 1768.7,2317.2C1733.7,2345.8 1699.1,2366.3 1664.4,2387.2C1629.6,2408.2 1594.6,2426.1 1560.1,2443C1525.5,2459.9 1491.6,2474.4 1457,2488.7C1422.5,2502.9 1388.9,2515.7 1352.7,2528.6C1316.5,2541.4 1281.3,2553.6 1240,2565.8C1198.6,2577.9 1151.1,2589.5 1104.4,2601.4C1057.8,2613.3 1009.7,2624.9 960.1,2637.1C910.6,2649.2 854.7,2662.3 807.1,2674.2C759.5,2686.2 717.4,2696.5 674.4,2708.6C631.4,2720.8 591.2,2734.2 549.2,2747.1C507.1,2759.9 447.9,2778.2 422.1,2785.7C396.2,2793.2 398.6,2791 393.9,2792" fill="none" stroke="#f49a9a" stroke-width="2.6" stroke-linejoin="round"/>
<circle cx="468.9" cy="2761.9" r="13.5" fill="#ff0000"/>
<circle cx="585.7" cy="2721.4" r="13.5" fill="#ff0000"/>
<circle cx="705.6" cy="2684.3" r="13.5" fill="#ff0000"/>
<circle cx="841.5" cy="2649.9" r="13.5" fill="#ff0000"/>
<circle cx="985.8" cy="2610" r="13.5" fill="#ff0000"/>
<circle cx="1124.4" cy="2572.8" r="13.5" fill="#ff0000"/>
<circle cx="1248.7" cy="2537.1" r="13.5" fill="#ff0000"/>
<circle cx="1363" cy="2500" r="13.5" fill="#ff0000"/>
<circle cx="1467" cy="2460" r="13.5" fill="#ff0000"/>
<circle cx="1568.5" cy="2415.6" r="13.5" fill="#ff0000"/>
<circle cx="1674.4" cy="2360.1" r="13.5" fill="#ff0000"/>
<circle cx="1777.1" cy="2292.8" r="13.5" fill="#ff0000"/>
<circle cx="1874.2" cy="2215.7" r="13.5" fill="#ff0000"/>
<circle cx="422.1" cy="2785.7" r="13.5" fill="#ff0000"/>
<circle cx="549.2" cy="2747.1" r="13.5" fill="#ff0000"/>
<circle cx="674.4" cy="2708.6" r="13.5" fill="#ff0000"/>
<circle cx="807.1" cy="2674.2" r="13.5" fill="#ff0000"/>
<circle cx="960.1" cy="2637.1" r="13.5" fill="#ff0000"/>
<circle cx="1104.4" cy="2601.4" r="13.5" fill="#ff0000"/>
<circle cx="1240" cy="2565.8" r="13.5" fill="#ff0000"/>
<circle cx="1352.7" cy="2528.6" r="13.5" fill="#ff0000"/>
<circle cx="1457" cy="2488.7" r="13.5" fill="#ff0000"/>
<circle cx="1560.1" cy="2443" r="13.5" fill="#ff0000"/>
<circle cx="1664.4" cy="2387.2" r="13.5" fill="#ff0000"/>
<circle cx="1768.7" cy="2317.2" r="13.5" fill="#ff0000"/>
<path d="M306.5,2792C321.1,2791.6 366.4,2795.8 393.9,2789.5C421.5,2783.2 442.5,2767.1 472,2754.3C501.6,2741.6 538.1,2727.9 571.3,2712.9C604.6,2697.9 637.7,2679 671.6,2664.2C705.4,2649.4 740.1,2636.9 774.3,2624.3C808.6,2611.7 840.6,2600.7 877.1,2588.6C913.5,2576.5 955.3,2563.6 992.9,2551.4C1030.6,2539.3 1067.2,2527.7 1102.9,2515.8C1138.6,2503.9 1172.4,2492.8 1207.2,2479.9C1241.9,2467 1277,2453 1311.5,2438.5C1346,2423.9 1379.7,2409.4 1414.2,2392.8C1448.7,2376.1 1484,2358.3 1518.5,2338.5C1553,2318.8 1586.8,2298.3 1621.3,2274.2C1655.8,2250.2 1691.3,2224.6 1725.6,2194.4C1759.9,2164.2 1802.5,2118.4 1827.1,2092.9C1851.7,2067.5 1865.3,2050 1873,2041.5" fill="none" stroke="#9aeea0" stroke-width="2.6" stroke-linejoin="round"/>
<path d="M1873,2041.5C1862.7,2055.3 1838.9,2091.9 1811.5,2124.3C1784.1,2156.7 1743.2,2203.4 1708.7,2235.8C1674.2,2268.2 1639,2293.4 1604.4,2318.7C1569.9,2343.9 1535.9,2366.8 1501.4,2387.2C1466.8,2407.7 1431.6,2425.1 1397.1,2441.5C1362.5,2457.9 1328.8,2471.8 1294.3,2485.7C1259.8,2499.5 1225.7,2511.7 1190,2524.3C1154.3,2537 1117.9,2549.4 1080.1,2561.5C1042.2,2573.6 1002.7,2585.3 963,2597.1C923.2,2609 880.8,2620.4 841.5,2632.8C802.2,2645.2 763.8,2657.9 727.2,2671.5C690.6,2685.1 655.6,2702.3 621.9,2714.4C588.2,2726.5 550.4,2735.9 525.1,2744.3C499.9,2752.7 491.3,2756.7 470.5,2764.6C449.6,2772.6 411.9,2787.4 400.2,2792" fill="none" stroke="#9aeea0" stroke-width="2.6" stroke-linejoin="round"/>
<polygon points="472,2735.3 488,2763.9 456,2763.9" fill="#00ff00"/>
<polygon points="571.3,2693.8 587.3,2722.4 555.3,2722.4" fill="#00ff00"/>
<polygon points="671.6,2645.1 687.6,2673.7 655.6,2673.7" fill="#00ff00"/>
<polygon points="774.3,2605.2 790.3,2633.8 758.3,2633.8" fill="#00ff00"/>
<polygon points="877.1,2569.5 893.1,2598.1 861.1,2598.1" fill="#00ff00"/>
<polygon points="992.9,2532.4 1008.9,2561 976.9,2561" fill="#00ff00"/>
<polygon points="1102.9,2496.7 1118.9,2525.3 1086.9,2525.3" fill="#00ff00"/>
<polygon points="1207.2,2460.8 1223.2,2489.4 1191.2,2489.4" fill="#00ff00"/>
<polygon points="1311.5,2419.4 1327.5,2448 1295.5,2448" fill="#00ff00"/>
<polygon points="1414.2,2373.7 1430.2,2402.3 1398.2,2402.3" fill="#00ff00"/>
<polygon points="1518.5,2319.4 1534.5,2348 1502.5,2348" fill="#00ff00"/>
<polygon points="1621.3,2255.2 1637.3,2283.8 1605.3,2283.8" fill="#00ff00"/>
<polygon points="1725.6,2175.3 1741.6,2203.9 1709.6,2203.9" fill="#00ff00"/>
<polygon points="1827.1,2073.9 1843.1,2102.5 1811.1,2102.5" fill="#00ff00"/>
<polygon points="470.5,2745.6 486.5,2774.2 454.5,2774.2" fill="#00ff00"/>
<polygon points="525.1,2725.2 541.1,2753.8 509.1,2753.8" fill="#00ff00"/>
<polygon points="621.9,2695.3 637.9,2723.9 605.9,2723.9" fill="#00ff00"/>
<polygon points="727.2,2652.4 743.2,2681 711.2,2681" fill="#00ff00"/>
<polygon points="841.5,2613.7 857.5,2642.3 825.5,2642.3" fill="#00ff00"/>
<polygon points="963,2578.1 979,2606.7 947,2606.7" fill="#00ff00"/>
<polygon points="1080.1,2542.4 1096.1,2571 1064.1,2571" fill="#00ff00"/>
<polygon points="1190,2505.3 1206,2533.9 1174,2533.9" fill="#00ff00"/>
<polygon points="1294.3,2466.6 1310.3,2495.2 1278.3,2495.2" fill="#00ff00"/>
<polygon points="1397.1,2422.4 1413.1,2451 1381.1,2451" fill="#00ff00"/>
<polygon points="1501.4,2368.2 1517.4,2396.8 1485.4,2396.8" fill="#00ff00"/>
<polygon points="1604.4,2299.6 1620.4,2328.2 1588.4,2328.2" fill="#00ff00"/>
<polygon points="1708.7,2216.7 1724.7,2245.3 1692.7,2245.3" fill="#00ff00"/>
<polygon points="1811.5,2105.3 1827.5,2133.9 1795.5,2133.9" fill="#00ff00"/>
<polygon points="337.7,2768.4 353.7,2797 321.7,2797" fill="#00ff00"/>
<polygon points="391.8,2771.4 407.8,2800 375.8,2800" fill="#00ff00"/>
<path d="M306.5,2792C319,2791.6 356.3,2794.4 381.5,2789.5C406.6,2784.6 427.7,2775.6 457.3,2762.4C487,2749.1 525,2727.9 559.5,2709.9C594,2691.9 630.3,2671.8 664.4,2654.4C698.5,2637 730.3,2621.9 764.3,2605.7C798.4,2589.5 833.9,2572.5 868.6,2557.2C903.4,2542 938.4,2528.8 972.9,2514.3C1007.5,2499.8 1040.9,2485.1 1075.7,2470.1C1110.5,2455.1 1146.8,2439.9 1181.6,2424.4C1216.3,2408.9 1249.8,2393.9 1284.3,2377.2C1318.8,2360.5 1354.1,2343 1388.6,2324.2C1423.1,2305.4 1456.6,2285.6 1491.4,2264.2C1526.1,2242.8 1562.7,2221.6 1597.2,2195.6C1631.7,2169.7 1664.2,2140.9 1698.4,2108.5C1732.7,2076.2 1772.5,2036.8 1802.7,2001.5C1833,1966.3 1867,1914.5 1879.9,1897.1" fill="none" stroke="#9a9ad8" stroke-width="2.6" stroke-linejoin="round"/>
<path d="M1879.9,1897.1C1874.2,1905.9 1868.7,1918.1 1845.8,1950.1C1823,1982 1777.3,2048.9 1742.8,2088.7C1708.2,2128.4 1673.4,2158.9 1638.5,2188.6C1603.5,2218.4 1567.6,2242.9 1532.9,2267.2C1498.2,2291.5 1464.7,2314 1430.2,2334.2C1395.6,2354.5 1360.4,2371.3 1325.8,2388.5C1291.3,2405.6 1257.3,2421.5 1222.8,2437.2C1188.2,2452.9 1153.2,2468.4 1118.5,2482.9C1083.7,2497.4 1048.9,2509.6 1014.2,2524.3C979.4,2539.1 944.6,2556.6 909.9,2571.5C875.1,2586.5 840.6,2598.8 805.9,2614.2C771.2,2629.7 735.3,2648.7 701.6,2664.2C667.8,2679.7 636.2,2693.8 603.2,2707.1C570.1,2720.5 536,2731.4 503.2,2744.3C470.5,2757.2 425.7,2776.5 406.4,2784.5C387.2,2792.4 390.8,2790.7 387.7,2792" fill="none" stroke="#9a9ad8" stroke-width="2.6" stroke-linejoin="round"/>
<polygon points="457.3,2781.4 473.3,2752.8 441.3,2752.8" fill="#0000ff"/>
<polygon points="559.5,2729 575.5,2700.4 543.5,2700.4" fill="#0000ff"/>
<polygon points="664.4,2673.5 680.4,2644.9 648.4,2644.9" fill="#0000ff"/>
<polygon points="764.3,2624.8 780.3,2596.2 748.3,2596.2" fill="#0000ff"/>
<polygon points="868.6,2576.3 884.6,2547.7 852.6,2547.7" fill="#0000ff"/>
<polygon points="972.9,2533.4 988.9,2504.8 956.9,2504.8" fill="#0000ff"/>
<polygon points="1075.7,2489.2 1091.7,2460.6 1059.7,2460.6" fill="#0000ff"/>
<polygon points="1181.6,2443.5 1197.6,2414.9 1165.6,2414.9" fill="#0000ff"/>
<polygon points="1284.3,2396.2 1300.3,2367.6 1268.3,2367.6" fill="#0000ff"/>
<polygon points="1388.6,2343.3 1404.6,2314.7 1372.6,2314.7" fill="#0000ff"/>
<polygon points="1491.4,2283.3 1507.4,2254.7 1475.4,2254.7" fill="#0000ff"/>
<polygon points="1597.2,2214.7 1613.2,2186.1 1581.2,2186.1" fill="#0000ff"/>
<polygon points="1698.4,2127.6 1714.4,2099 1682.4,2099" fill="#0000ff"/>
<polygon points="1802.7,2020.6 1818.7,1992 1786.7,1992" fill="#0000ff"/>
<polygon points="503.2,2763.4 519.2,2734.8 487.2,2734.8" fill="#0000ff"/>
<polygon points="603.2,2726.2 619.2,2697.6 587.2,2697.6" fill="#0000ff"/>
<polygon points="701.6,2683.3 717.6,2654.7 685.6,2654.7" fill="#0000ff"/>
<polygon points="805.9,2633.3 821.9,2604.7 789.9,2604.7" fill="#0000ff"/>
<polygon points="909.9,2590.6 925.9,2562 893.9,2562" fill="#0000ff"/>
<polygon points="1014.2,2543.4 1030.2,2514.8 998.2,2514.8" fill="#0000ff"/>
<polygon points="1118.5,2502 1134.5,2473.4 1102.5,2473.4" fill="#0000ff"/>
<polygon points="1222.8,2456.3 1238.8,2427.7 1206.8,2427.7" fill="#0000ff"/>
<polygon points="1325.8,2407.5 1341.8,2378.9 1309.8,2378.9" fill="#0000ff"/>
<polygon points="1430.2,2353.3 1446.2,2324.7 1414.2,2324.7" fill="#0000ff"/>
<polygon points="1532.9,2286.3 1548.9,2257.7 1516.9,2257.7" fill="#0000ff"/>
<polygon points="1638.5,2207.7 1654.5,2179.1 1622.5,2179.1" fill="#0000ff"/>
<polygon points="1742.8,2107.7 1758.8,2079.1 1726.8,2079.1" fill="#0000ff"/>
<polygon points="1845.8,1969.1 1861.8,1940.5 1829.8,1940.5" fill="#0000ff"/>
<polygon points="369.9,2806.5 385.9,2777.9 353.9,2777.9" fill="#0000ff"/>
<path d="M306.5,2792C320,2791.6 361.7,2797 387.7,2789.5C413.7,2782 433,2763.6 462.6,2747.1C492.3,2730.5 531.9,2708.4 565.7,2690.1C599.5,2671.7 631.6,2654.9 665.6,2637.1C699.7,2619.2 735.2,2600 770,2582.8C804.7,2565.7 840.4,2550.3 874.3,2534.4C908.1,2518.4 939.4,2502.9 972.9,2487.2C1006.5,2471.4 1040.9,2455.7 1075.7,2440C1110.5,2424.2 1147.1,2409.2 1181.6,2392.8C1216.1,2376.3 1248.5,2359.1 1282.7,2341.5C1317,2323.9 1352.5,2307.3 1387.1,2287C1421.6,2266.8 1455.6,2244.3 1490.1,2220C1524.7,2195.7 1559,2170.7 1594.4,2141.4C1629.9,2112.1 1668.1,2080.4 1702.8,2044.2C1737.5,2008 1774.2,1962.8 1802.7,1924.2C1831.3,1885.6 1862.3,1831.3 1874.2,1812.7" fill="none" stroke="#9af2f2" stroke-width="2.6" stroke-linejoin="round"/>
<path d="M1874.2,1812.7C1868.5,1821.8 1862.7,1831.7 1839.9,1867.2C1817,1902.7 1771.7,1980.2 1737.1,2025.6C1702.6,2071.1 1667.8,2106.5 1632.8,2139.9C1597.9,2173.2 1562.3,2199.3 1527.3,2225.8C1492.3,2252.2 1457.5,2276.7 1423,2298.6C1388.4,2320.5 1354.5,2339 1319.9,2357.1C1285.4,2375.2 1250.4,2390.6 1215.6,2407.1C1180.8,2423.5 1146.3,2440.3 1111.3,2455.8C1076.3,2471.3 1040.2,2485 1005.7,2500C971.2,2515 938.1,2530.4 904.2,2545.7C870.4,2560.9 837.3,2575.2 802.7,2591.4C768.2,2607.6 732,2625.9 697.2,2642.8C662.4,2659.8 628.2,2675.4 593.8,2692.8C559.5,2710.2 523.3,2731.4 491.1,2747.1C458.8,2762.7 418.5,2779.5 400.2,2787C381.9,2794.5 384.6,2791.2 381.5,2792" fill="none" stroke="#9af2f2" stroke-width="2.6" stroke-linejoin="round"/>
<polygon points="462.6,2730.1 479.6,2747.1 462.6,2764.1 445.6,2747.1" fill="#00ffff"/>
<polygon points="565.7,2673.1 582.7,2690.1 565.7,2707.1 548.7,2690.1" fill="#00ffff"/>
<polygon points="665.6,2620.1 682.6,2637.1 665.6,2654.1 648.6,2637.1" fill="#00ffff"/>
<polygon points="770,2565.8 787,2582.8 770,2599.8 753,2582.8" fill="#00ffff"/>
<polygon points="874.3,2517.4 891.3,2534.4 874.3,2551.4 857.3,2534.4" fill="#00ffff"/>
<polygon points="972.9,2470.2 989.9,2487.2 972.9,2504.2 955.9,2487.2" fill="#00ffff"/>
<polygon points="1075.7,2423 1092.7,2440 1075.7,2457 1058.7,2440" fill="#00ffff"/>
<polygon points="1181.6,2375.8 1198.6,2392.8 1181.6,2409.8 1164.6,2392.8" fill="#00ffff"/>
<polygon points="1282.7,2324.5 1299.7,2341.5 1282.7,2358.5 1265.7,2341.5" fill="#00ffff"/>
<polygon points="1387.1,2270 1404.1,2287 1387.1,2304 1370.1,2287" fill="#00ffff"/>
<polygon points="1490.1,2203 1507.1,2220 1490.1,2237 1473.1,2220" fill="#00ffff"/>
<polygon points="1594.4,2124.4 1611.4,2141.4 1594.4,2158.4 1577.4,2141.4" fill="#00ffff"/>
<polygon points="1702.8,2027.2 1719.8,2044.2 1702.8,2061.2 1685.8,2044.2" fill="#00ffff"/>
<polygon points="1802.7,1907.2 1819.7,1924.2 1802.7,1941.2 1785.7,1924.2" fill="#00ffff"/>
<polygon points="491.1,2730.1 508.1,2747.1 491.1,2764.1 474.1,2747.1" fill="#00ffff"/>
<polygon points="593.8,2675.8 610.8,2692.8 593.8,2709.8 576.8,2692.8" fill="#00ffff"/>
<polygon points="697.2,2625.8 714.2,2642.8 697.2,2659.8 680.2,2642.8" fill="#00ffff"/>
<polygon points="802.7,2574.4 819.7,2591.4 802.7,2608.4 785.7,2591.4" fill="#00ffff"/>
<polygon points="904.2,2528.7 921.2,2545.7 904.2,2562.7 887.2,2545.7" fill="#00ffff"/>
<polygon points="1005.7,2483 1022.7,2500 1005.7,2517 988.7,2500" fill="#00ffff"/>
<polygon points="1111.3,2438.8 1128.3,2455.8 1111.3,2472.8 1094.3,2455.8" fill="#00ffff"/>
<polygon points="1215.6,2390.1 1232.6,2407.1 1215.6,2424.1 1198.6,2407.1" fill="#00ffff"/>
<polygon points="1319.9,2340.1 1336.9,2357.1 1319.9,2374.1 1302.9,2357.1" fill="#00ffff"/>
<polygon points="1423,2281.6 1440,2298.6 1423,2315.6 1406,2298.6" fill="#00ffff"/>
<polygon points="1527.3,2208.8 1544.3,2225.8 1527.3,2242.8 1510.3,2225.8" fill="#00ffff"/>
<polygon points="1632.8,2122.9 1649.8,2139.9 1632.8,2156.9 1615.8,2139.9" fill="#00ffff"/>
<polygon points="1737.1,2008.6 1754.1,2025.6 1737.1,2042.6 1720.1,2025.6" fill="#00ffff"/>
<polygon points="1839.9,1850.2 1856.9,1867.2 1839.9,1884.2 1822.9,1867.2" fill="#00ffff"/>
<polygon points="319.6,2770.5 336.6,2787.5 319.6,2804.5 302.6,2787.5" fill="#00ffff"/>
<polygon points="355.8,2771 372.8,2788 355.8,2805 338.8,2788" fill="#00ffff"/>
<path d="M330.5,2790.5C339,2790.3 361.4,2797.8 381.5,2789.5C401.5,2781.2 422.5,2758.5 450.8,2740.5C479.1,2722.5 517.7,2700.6 551.3,2681.5C585,2662.4 618.3,2644.1 652.8,2625.8C687.4,2607.4 723.7,2589.2 758.7,2571.5C793.7,2553.9 828.2,2536.8 862.7,2520.1C897.2,2503.4 931.2,2487.3 965.8,2471.3C1000.3,2455.4 1035.3,2440.8 1070.1,2424.4C1104.8,2408 1140.1,2388.4 1174.4,2372.9C1208.6,2357.4 1241.5,2348.1 1275.6,2331.5C1309.6,2314.8 1344.1,2293.7 1378.6,2273C1413.2,2252.3 1449.8,2231 1482.9,2207.2C1516.1,2183.4 1544.2,2158.2 1577.6,2130.1C1610.9,2102 1647.9,2073.2 1682.8,2038.4C1717.7,2003.7 1754.7,1962.4 1787.1,1921.4C1819.5,1880.5 1862.1,1814.3 1877.1,1792.9" fill="none" stroke="#f49af0" stroke-width="2.6" stroke-linejoin="round"/>
<path d="M1877.1,1792.9C1874.2,1796.7 1880.3,1784 1859.9,1815.7C1839.4,1847.4 1789.6,1935.1 1754.3,1983C1719.1,2030.8 1683.7,2068 1648.5,2103C1613.2,2138 1577.6,2166 1542.9,2192.9C1508.2,2219.7 1475.6,2242 1440.1,2264.2C1404.7,2286.3 1363.7,2306.4 1329.9,2325.7C1296.1,2345 1270.5,2362.6 1237.2,2379.9C1203.8,2397.3 1165.3,2414 1130,2429.9C1094.8,2445.9 1059.9,2460 1025.7,2475.6C991.5,2491.2 959.2,2507.3 924.9,2523.3C890.6,2539.3 854.5,2555 819.9,2571.5C785.3,2588.1 751.4,2605.4 717.2,2622.8C682.9,2640.1 649,2658.7 614.4,2675.7C579.9,2692.8 543.6,2708.8 509.8,2725.2C476,2741.7 433.3,2763.3 411.4,2774.4C389.5,2785.6 383.8,2789.1 378.3,2792" fill="none" stroke="#f49af0" stroke-width="2.6" stroke-linejoin="round"/>
<polygon points="311.5,2790.5 340.1,2774.5 340.1,2806.5" fill="#ff00ff"/>
<polygon points="431.7,2740.5 460.3,2724.5 460.3,2756.5" fill="#ff00ff"/>
<polygon points="532.3,2681.5 560.9,2665.5 560.9,2697.5" fill="#ff00ff"/>
<polygon points="633.8,2625.8 662.4,2609.8 662.4,2641.8" fill="#ff00ff"/>
<polygon points="739.6,2571.5 768.2,2555.5 768.2,2587.5" fill="#ff00ff"/>
<polygon points="843.6,2520.1 872.2,2504.1 872.2,2536.1" fill="#ff00ff"/>
<polygon points="946.7,2471.3 975.3,2455.3 975.3,2487.3" fill="#ff00ff"/>
<polygon points="1051,2424.4 1079.6,2408.4 1079.6,2440.4" fill="#ff00ff"/>
<polygon points="1155.3,2372.9 1183.9,2356.9 1183.9,2388.9" fill="#ff00ff"/>
<polygon points="1256.5,2331.5 1285.1,2315.5 1285.1,2347.5" fill="#ff00ff"/>
<polygon points="1359.6,2273 1388.2,2257 1388.2,2289" fill="#ff00ff"/>
<polygon points="1463.9,2207.2 1492.5,2191.2 1492.5,2223.2" fill="#ff00ff"/>
<polygon points="1558.5,2130.1 1587.1,2114.1 1587.1,2146.1" fill="#ff00ff"/>
<polygon points="1663.7,2038.4 1692.3,2022.4 1692.3,2054.4" fill="#ff00ff"/>
<polygon points="1768,1921.4 1796.6,1905.4 1796.6,1937.4" fill="#ff00ff"/>
<polygon points="392.4,2774.4 421,2758.4 421,2790.4" fill="#ff00ff"/>
<polygon points="490.7,2725.2 519.3,2709.2 519.3,2741.2" fill="#ff00ff"/>
<polygon points="595.4,2675.7 624,2659.7 624,2691.7" fill="#ff00ff"/>
<polygon points="698.1,2622.8 726.7,2606.8 726.7,2638.8" fill="#ff00ff"/>
<polygon points="800.9,2571.5 829.5,2555.5 829.5,2587.5" fill="#ff00ff"/>
<polygon points="905.8,2523.3 934.4,2507.3 934.4,2539.3" fill="#ff00ff"/>
<polygon points="1006.7,2475.6 1035.3,2459.6 1035.3,2491.6" fill="#ff00ff"/>
<polygon points="1111,2429.9 1139.6,2413.9 1139.6,2445.9" fill="#ff00ff"/>
<polygon points="1218.1,2379.9 1246.7,2363.9 1246.7,2395.9" fill="#ff00ff"/>
<polygon points="1310.8,2325.7 1339.4,2309.7 1339.4,2341.7" fill="#ff00ff"/>
<polygon points="1421.1,2264.2 1449.7,2248.2 1449.7,2280.2" fill="#ff00ff"/>
<polygon points="1523.8,2192.9 1552.4,2176.9 1552.4,2208.9" fill="#ff00ff"/>
<polygon points="1629.4,2103 1658,2087 1658,2119" fill="#ff00ff"/>
<polygon points="1735.3,1983 1763.9,1967 1763.9,1999" fill="#ff00ff"/>
<polygon points="1840.8,1815.7 1869.4,1799.7 1869.4,1831.7" fill="#ff00ff"/>
<path d="M310.9,2790.7C323.7,2790.5 365.8,2795.5 387.7,2789.5C409.6,2783.5 415.5,2770.4 442,2754.6C468.6,2738.8 512.8,2714.2 547,2694.6C581.2,2675 613.4,2655.9 647.2,2637.1C681.1,2618.2 715.7,2599.4 750,2581.3C784.2,2563.2 817.7,2546.2 852.7,2528.6C887.7,2511 925.1,2493 960.1,2475.6C995.2,2458.2 1028.8,2441.5 1062.9,2424.4C1096.9,2407.3 1131.2,2390.5 1164.4,2372.9C1197.6,2355.3 1227.9,2337.5 1262.1,2318.7C1296.4,2299.8 1334.5,2281.1 1369.9,2259.9C1405.2,2238.7 1440.1,2216.2 1474.2,2191.4C1508.3,2166.5 1540.1,2139.6 1574.4,2110.8C1608.7,2082 1645,2054 1680,2018.6C1715,1983.2 1753.6,1940 1784.3,1898.6C1815,1857.2 1849.3,1794.1 1864.3,1770C1879.2,1746 1872.6,1756.8 1874.2,1754.2" fill="none" stroke="#f2f29a" stroke-width="2.6" stroke-linejoin="round"/>
<path d="M1874.2,1754.2C1855.2,1787.8 1796.1,1900.8 1759.9,1955.8C1723.8,2010.9 1691.5,2046.8 1657.2,2084.4C1622.9,2122 1588.2,2152.1 1554.1,2181.3C1520.1,2210.6 1487,2235.9 1453,2259.9C1418.9,2284 1384.5,2305.3 1349.9,2325.7C1315.3,2346.1 1280.6,2363.9 1245.6,2382.2C1210.6,2400.5 1174.7,2417.7 1140,2435.7C1105.3,2453.6 1071.7,2472.1 1037.3,2489.9C1002.9,2507.8 967.9,2525 933.6,2542.9C899.3,2560.8 865.9,2579.5 831.5,2597.1C797.1,2614.8 761.6,2631.3 727.2,2648.6C692.8,2666 659.1,2684.6 625,2701.4C591,2718.1 558.9,2735.1 522.9,2749.3C487,2763.5 432.3,2779.4 409.2,2786.5C386.2,2793.6 388.7,2791.1 384.6,2792" fill="none" stroke="#f2f29a" stroke-width="2.6" stroke-linejoin="round"/>
<polygon points="329.9,2790.7 301.3,2774.7 301.3,2806.7" fill="#ffff00"/>
<polygon points="461.1,2754.6 432.5,2738.6 432.5,2770.6" fill="#ffff00"/>
<polygon points="566,2694.6 537.4,2678.6 537.4,2710.6" fill="#ffff00"/>
<polygon points="666.3,2637.1 637.7,2621.1 637.7,2653.1" fill="#ffff00"/>
<polygon points="769,2581.3 740.4,2565.3 740.4,2597.3" fill="#ffff00"/>
<polygon points="871.8,2528.6 843.2,2512.6 843.2,2544.6" fill="#ffff00"/>
<polygon points="979.2,2475.6 950.6,2459.6 950.6,2491.6" fill="#ffff00"/>
<polygon points="1082,2424.4 1053.4,2408.4 1053.4,2440.4" fill="#ffff00"/>
<polygon points="1183.5,2372.9 1154.9,2356.9 1154.9,2388.9" fill="#ffff00"/>
<polygon points="1281.2,2318.7 1252.6,2302.7 1252.6,2334.7" fill="#ffff00"/>
<polygon points="1388.9,2259.9 1360.3,2243.9 1360.3,2275.9" fill="#ffff00"/>
<polygon points="1493.3,2191.4 1464.7,2175.4 1464.7,2207.4" fill="#ffff00"/>
<polygon points="1593.5,2110.8 1564.9,2094.8 1564.9,2126.8" fill="#ffff00"/>
<polygon points="1699.1,2018.6 1670.5,2002.6 1670.5,2034.6" fill="#ffff00"/>
<polygon points="1803.4,1898.6 1774.8,1882.6 1774.8,1914.6" fill="#ffff00"/>
<polygon points="1883.3,1770 1854.7,1754 1854.7,1786" fill="#ffff00"/>
<polygon points="428.3,2786.5 399.7,2770.5 399.7,2802.5" fill="#ffff00"/>
<polygon points="542,2749.3 513.4,2733.3 513.4,2765.3" fill="#ffff00"/>
<polygon points="644.1,2701.4 615.5,2685.4 615.5,2717.4" fill="#ffff00"/>
<polygon points="746.2,2648.6 717.6,2632.6 717.6,2664.6" fill="#ffff00"/>
<polygon points="850.5,2597.1 821.9,2581.1 821.9,2613.1" fill="#ffff00"/>
<polygon points="952.7,2542.9 924.1,2526.9 924.1,2558.9" fill="#ffff00"/>
<polygon points="1056.3,2489.9 1027.7,2473.9 1027.7,2505.9" fill="#ffff00"/>
<polygon points="1159.1,2435.7 1130.5,2419.7 1130.5,2451.7" fill="#ffff00"/>
<polygon points="1264.7,2382.2 1236.1,2366.2 1236.1,2398.2" fill="#ffff00"/>
<polygon points="1369,2325.7 1340.4,2309.7 1340.4,2341.7" fill="#ffff00"/>
<polygon points="1472,2259.9 1443.4,2243.9 1443.4,2275.9" fill="#ffff00"/>
<polygon points="1573.2,2181.3 1544.6,2165.3 1544.6,2197.3" fill="#ffff00"/>
<polygon points="1676.3,2084.4 1647.7,2068.4 1647.7,2100.4" fill="#ffff00"/>
<polygon points="1779,1955.8 1750.4,1939.8 1750.4,1971.8" fill="#ffff00"/>
</g>
<rect x="306.5" y="1536.5" width="1717.7" height="1255.5" fill="none" stroke="#1c1c1c" stroke-width="4.3"/>
<line x1="282.5" y1="2792" x2="306.5" y2="2792" stroke="#1c1c1c" stroke-width="4.3"/>
<line x1="293.5" y1="2666.4" x2="306.5" y2="2666.4" stroke="#1c1c1c" stroke-width="4.3"/>
<line x1="282.5" y1="2540.9" x2="306.5" y2="2540.9" stroke="#1c1c1c" stroke-width="4.3"/>
<line x1="293.5" y1="2415.3" x2="306.5" y2="2415.3" stroke="#1c1c1c" stroke-width="4.3"/>
<line x1="282.5" y1="2289.8" x2="306.5" y2="2289.8" stroke="#1c1c1c" stroke-width="4.3"/>
<line x1="293.5" y1="2164.2" x2="306.5" y2="2164.2" stroke="#1c1c1c" stroke-width="4.3"/>
<line x1="282.5" y1="2038.7" x2="306.5" y2="2038.7" stroke="#1c1c1c" stroke-width="4.3"/>
<line x1="293.5" y1="1913.2" x2="306.5" y2="1913.2" stroke="#1c1c1c" stroke-width="4.3"/>
<line x1="282.5" y1="1787.6" x2="306.5" y2="1787.6" stroke="#1c1c1c" stroke-width="4.3"/>
<line x1="293.5" y1="1662" x2="306.5" y2="1662" stroke="#1c1c1c" stroke-width="4.3"/>
<line x1="282.5" y1="1536.5" x2="306.5" y2="1536.5" stroke="#1c1c1c" stroke-width="4.3"/>
<line x1="306.5" y1="2792" x2="306.5" y2="2816" stroke="#1c1c1c" stroke-width="4.3"/>
<line x1="462.6" y1="2792" x2="462.6" y2="2805" stroke="#1c1c1c" stroke-width="4.3"/>
<line x1="618.8" y1="2792" x2="618.8" y2="2816" stroke="#1c1c1c" stroke-width="4.3"/>
<line x1="775" y1="2792" x2="775" y2="2805" stroke="#1c1c1c" stroke-width="4.3"/>
<line x1="931.1" y1="2792" x2="931.1" y2="2816" stroke="#1c1c1c" stroke-width="4.3"/>
<line x1="1087.2" y1="2792" x2="1087.2" y2="2805" stroke="#1c1c1c" stroke-width="4.3"/>
<line x1="1243.4" y1="2792" x2="1243.4" y2="2816" stroke="#1c1c1c" stroke-width="4.3"/>
<line x1="1399.5" y1="2792" x2="1399.5" y2="2805" stroke="#1c1c1c" stroke-width="4.3"/>
<line x1="1555.7" y1="2792" x2="1555.7" y2="2816" stroke="#1c1c1c" stroke-width="4.3"/>
<line x1="1711.8" y1="2792" x2="1711.8" y2="2805" stroke="#1c1c1c" stroke-width="4.3"/>
<line x1="1868" y1="2792" x2="1868" y2="2816" stroke="#1c1c1c" stroke-width="4.3"/>
<line x1="2024.2" y1="2792" x2="2024.2" y2="2805" stroke="#1c1c1c" stroke-width="4.3"/>
<g font-size="51"><text x="266" y="2805.2" text-anchor="end">0</text><text x="266" y="2554.1" text-anchor="end">100</text><text x="266" y="2303" text-anchor="end">200</text><text x="266" y="2051.9" text-anchor="end">300</text><text x="266" y="1800.8" text-anchor="end">400</text><text x="266" y="1549.7" text-anchor="end">500</text><text x="305.5" y="2868.8" text-anchor="middle">0</text><text x="617.8" y="2868.8" text-anchor="middle">10</text><text x="930.1" y="2868.8" text-anchor="middle">20</text><text x="1242.4" y="2868.8" text-anchor="middle">30</text><text x="1554.7" y="2868.8" text-anchor="middle">40</text><text x="1867" y="2868.8" text-anchor="middle">50</text></g>
<text x="1163.6" y="2964" font-weight="bold" font-size="54" text-anchor="middle">Compression %</text>
<text font-weight="bold" font-size="54.5" text-anchor="middle" textLength="330" lengthAdjust="spacingAndGlyphs" transform="translate(105.8,2189.4) scale(1.05,1) rotate(-90)">Stress (kPa)</text>
<text x="50.5" y="1570.3" font-weight="bold" font-size="53" letter-spacing="2">(b)</text>
<line x1="328" y1="1582.4" x2="454" y2="1582.4" stroke="#858585" stroke-width="3"/>
<rect x="379.2" y="1570.7" width="23.5" height="23.5" fill="#000000"/>
<text x="469" y="1599.8" font-weight="bold" font-size="53">S0</text>
<line x1="328" y1="1652" x2="454" y2="1652" stroke="#f49a9a" stroke-width="3"/>
<circle cx="391" cy="1652" r="13.5" fill="#ff0000"/>
<text x="469" y="1669.4" font-weight="bold" font-size="53">S0.1</text>
<line x1="328" y1="1721.6" x2="454" y2="1721.6" stroke="#9aeea0" stroke-width="3"/>
<polygon points="391,1702.5 407,1731.1 375,1731.1" fill="#00ff00"/>
<text x="469" y="1739" font-weight="bold" font-size="53">S0.25</text>
<line x1="328" y1="1791.2" x2="454" y2="1791.2" stroke="#9a9ad8" stroke-width="3"/>
<polygon points="391,1810.3 407,1781.7 375,1781.7" fill="#0000ff"/>
<text x="469" y="1808.6" font-weight="bold" font-size="53">S0.5</text>
<line x1="328" y1="1860.8" x2="454" y2="1860.8" stroke="#9af2f2" stroke-width="3"/>
<polygon points="391,1843.8 408,1860.8 391,1877.8 374,1860.8" fill="#00ffff"/>
<text x="469" y="1878.2" font-weight="bold" font-size="53">S1</text>
<line x1="328" y1="1930.4" x2="454" y2="1930.4" stroke="#f49af0" stroke-width="3"/>
<polygon points="371.9,1930.4 400.5,1914.4 400.5,1946.4" fill="#ff00ff"/>
<text x="469" y="1947.8" font-weight="bold" font-size="53">S1.5</text>
<line x1="328" y1="2000" x2="454" y2="2000" stroke="#f2f29a" stroke-width="3"/>
<polygon points="410.1,2000 381.5,1984 381.5,2016" fill="#ffff00"/>
<text x="469" y="2017.4" font-weight="bold" font-size="53">S2</text>
<text font-weight="bold" font-size="63"><tspan x="1754.8" y="1609.3">2</tspan><tspan x="1792.8" y="1573.3" font-size="39">nd</tspan><tspan x="1855.5" y="1609.3" font-size="62" textLength="161.2" lengthAdjust="spacingAndGlyphs">cycle</tspan></text>
<clipPath id="clip2"><rect x="306.5" y="3010.4" width="1717.7" height="1257.6"/></clipPath>
<g clip-path="url(#clip2)">
<path d="M306.5,4268C323.2,4267.8 372.6,4272.2 406.4,4266.7C440.3,4261.3 466,4246.8 509.5,4235.3C553,4223.8 604.7,4210 667.2,4197.8C729.7,4185.6 807.8,4174.3 884.3,4162.1C960.7,4150 1051.6,4137.5 1125.7,4124.9C1199.7,4112.3 1269.6,4098.5 1328.7,4086.4C1387.7,4074.3 1435.2,4064.4 1480.1,4052.2C1525.1,4040 1561.6,4027 1598.5,4013.5C1635.4,3999.9 1667,3986.9 1701.5,3970.7C1736.1,3954.5 1776.1,3933.1 1805.9,3916.4C1835.6,3899.7 1867.5,3878.2 1879.9,3870.6" fill="none" stroke="#858585" stroke-width="2.6" stroke-linejoin="round"/>
<path d="M1879.9,3870.6C1873.5,3876.3 1865.2,3886.9 1841.5,3905.1C1817.7,3923.2 1771.7,3958.8 1737.1,3979.3C1702.6,3999.7 1670.8,4013.3 1634.4,4027.8C1598,4042.3 1563.1,4055.1 1518.5,4066.5C1474,4078 1429,4084.3 1367.1,4096.5C1305.2,4108.6 1227.4,4125.6 1147.2,4139.2C1067,4152.8 970.2,4165.4 885.8,4178C801.4,4190.5 710.2,4202 640.7,4214.7C571.1,4227.4 505.5,4245.3 468.6,4254.2C431.6,4263.1 427.2,4265.7 418.9,4268" fill="none" stroke="#858585" stroke-width="2.6" stroke-linejoin="round"/>
<rect x="655.5" y="4186.1" width="23.5" height="23.5" fill="#000000"/>
<rect x="872.5" y="4150.4" width="23.5" height="23.5" fill="#000000"/>
<rect x="1113.9" y="4113.1" width="23.5" height="23.5" fill="#000000"/>
<rect x="1316.9" y="4074.7" width="23.5" height="23.5" fill="#000000"/>
<rect x="1468.4" y="4040.4" width="23.5" height="23.5" fill="#000000"/>
<rect x="1586.7" y="4001.7" width="23.5" height="23.5" fill="#000000"/>
<rect x="1689.8" y="3959" width="23.5" height="23.5" fill="#000000"/>
<rect x="1794.1" y="3904.6" width="23.5" height="23.5" fill="#000000"/>
<rect x="456.8" y="4242.4" width="23.5" height="23.5" fill="#000000"/>
<rect x="628.9" y="4202.9" width="23.5" height="23.5" fill="#000000"/>
<rect x="874.1" y="4166.2" width="23.5" height="23.5" fill="#000000"/>
<rect x="1135.5" y="4127.5" width="23.5" height="23.5" fill="#000000"/>
<rect x="1355.3" y="4084.7" width="23.5" height="23.5" fill="#000000"/>
<rect x="1506.8" y="4054.8" width="23.5" height="23.5" fill="#000000"/>
<rect x="1622.6" y="4016" width="23.5" height="23.5" fill="#000000"/>
<rect x="1725.4" y="3967.5" width="23.5" height="23.5" fill="#000000"/>
<rect x="1829.7" y="3893.3" width="23.5" height="23.5" fill="#000000"/>
<path d="M306.5,4268C323.2,4267.8 376.2,4270.9 406.4,4266.7C436.6,4262.6 455.8,4253 487.6,4242.8C519.4,4232.7 558.3,4219.1 597.3,4205.6C636.2,4192.2 678.4,4175.6 721.5,4162.1C764.6,4148.7 808.9,4137.3 855.8,4124.9C902.7,4112.5 955.1,4100.3 1002.9,4087.9C1050.8,4075.5 1099.6,4063.1 1142.8,4050.7C1186,4038.3 1222.4,4025.6 1262.1,4013.5C1301.9,4001.3 1344.2,3990.4 1381.4,3977.7C1418.7,3965.1 1452,3952.3 1485.7,3937.8C1519.5,3923.2 1549.5,3907.9 1583.8,3890.7C1618.1,3873.6 1656.2,3855.3 1691.6,3834.9C1726.9,3814.4 1764.9,3789.9 1795.9,3768C1826.8,3746.1 1863.5,3714.3 1877.1,3703.6" fill="none" stroke="#f49a9a" stroke-width="2.6" stroke-linejoin="round"/>
<path d="M1877.1,3703.6C1872.3,3707.9 1870.8,3710.2 1848.6,3729.2C1826.5,3748.3 1778.8,3792.3 1744.3,3817.8C1709.8,3843.3 1676.1,3862.4 1641.6,3882.2C1607.1,3902 1571.8,3920.3 1537.3,3936.5C1502.7,3952.7 1470,3965.7 1434.2,3979.3C1398.5,3992.8 1360.8,4005.1 1322.7,4017.7C1284.6,4030.4 1247.5,4042.6 1205.6,4055C1163.7,4067.4 1118.7,4080 1071.3,4092.2C1024,4104.3 970.9,4115.8 921.4,4127.9C871.9,4140 821.4,4152.7 774.3,4164.9C727.2,4177.1 680.5,4187.6 638.8,4201.1C597.1,4214.6 557.7,4234.5 524.2,4245.6C490.7,4256.8 452.1,4264.3 437.7,4268" fill="none" stroke="#f49a9a" stroke-width="2.6" stroke-linejoin="round"/>
<circle cx="597.3" cy="4205.6" r="13.5" fill="#ff0000"/>
<circle cx="721.5" cy="4162.1" r="13.5" fill="#ff0000"/>
<circle cx="855.8" cy="4124.9" r="13.5" fill="#ff0000"/>
<circle cx="1002.9" cy="4087.9" r="13.5" fill="#ff0000"/>
<circle cx="1142.8" cy="4050.7" r="13.5" fill="#ff0000"/>
<circle cx="1262.1" cy="4013.5" r="13.5" fill="#ff0000"/>
<circle cx="1381.4" cy="3977.7" r="13.5" fill="#ff0000"/>
<circle cx="1485.7" cy="3937.8" r="13.5" fill="#ff0000"/>
<circle cx="1583.8" cy="3890.7" r="13.5" fill="#ff0000"/>
<circle cx="1691.6" cy="3834.9" r="13.5" fill="#ff0000"/>
<circle cx="1795.9" cy="3768" r="13.5" fill="#ff0000"/>
<circle cx="524.2" cy="4245.6" r="13.5" fill="#ff0000"/>
<circle cx="638.8" cy="4201.1" r="13.5" fill="#ff0000"/>
<circle cx="774.3" cy="4164.9" r="13.5" fill="#ff0000"/>
<circle cx="921.4" cy="4127.9" r="13.5" fill="#ff0000"/>
<circle cx="1071.3" cy="4092.2" r="13.5" fill="#ff0000"/>
<circle cx="1205.6" cy="4055" r="13.5" fill="#ff0000"/>
<circle cx="1322.7" cy="4017.7" r="13.5" fill="#ff0000"/>
<circle cx="1434.2" cy="3979.3" r="13.5" fill="#ff0000"/>
<circle cx="1537.3" cy="3936.5" r="13.5" fill="#ff0000"/>
<circle cx="1641.6" cy="3882.2" r="13.5" fill="#ff0000"/>
<circle cx="1744.3" cy="3817.8" r="13.5" fill="#ff0000"/>
<circle cx="1848.6" cy="3729.2" r="13.5" fill="#ff0000"/>
<path d="M306.5,4268C321.1,4267.6 366.9,4270.5 393.9,4265.5C421,4260.5 439.2,4251.2 468.9,4237.8C498.6,4224.4 537.5,4200.7 572,4185C606.4,4169.3 639,4156.6 675.6,4143.5C712.2,4130.4 754.3,4118.9 791.5,4106.5C828.7,4094.2 862,4082.2 898.6,4069.3C935.3,4056.4 974,4042.4 1011.4,4029.3C1048.7,4016.2 1086.9,4003.7 1122.9,3990.8C1158.8,3978 1192.7,3965.2 1227.2,3952.1C1261.7,3939 1295.4,3926.6 1329.9,3912.1C1364.4,3897.6 1399.4,3882.4 1434.2,3865.1C1469,3847.7 1504,3828.2 1538.5,3808C1573.1,3787.7 1607.5,3768.1 1641.6,3743.6C1675.6,3719.1 1708.5,3691.6 1742.8,3660.8C1777,3630.1 1824.7,3581.9 1847.1,3559.2C1869.5,3536.6 1872.1,3530.7 1877.1,3525" fill="none" stroke="#9aeea0" stroke-width="2.6" stroke-linejoin="round"/>
<path d="M1877.1,3525C1864.7,3541.7 1832.5,3591.1 1802.7,3625.1C1773,3659.2 1732.9,3698.6 1698.4,3729.2C1663.9,3759.9 1630.2,3785.2 1595.7,3809.2C1561.2,3833.3 1526.1,3854.1 1491.4,3873.6C1456.6,3893.2 1421.6,3910.7 1387.1,3926.4C1352.5,3942.2 1318.8,3954.4 1284.3,3967.9C1249.8,3981.5 1215.7,3995.1 1180,4007.9C1144.3,4020.8 1107.9,4032.3 1070.1,4044.9C1032.2,4057.5 993.5,4071.2 953,4083.6C912.5,4096 866.4,4107.7 827.1,4119.4C787.8,4131 752.5,4141.1 717.2,4153.6C681.8,4166 649.4,4180.6 615.1,4194.1C580.8,4207.5 545.1,4222 511.4,4234.3C477.6,4246.6 429.1,4262.4 412.7,4268" fill="none" stroke="#9aeea0" stroke-width="2.6" stroke-linejoin="round"/>
<polygon points="468.9,4218.8 484.9,4247.4 452.9,4247.4" fill="#00ff00"/>
<polygon points="572,4165.9 588,4194.5 556,4194.5" fill="#00ff00"/>
<polygon points="675.6,4124.4 691.6,4153 659.6,4153" fill="#00ff00"/>
<polygon points="791.5,4087.5 807.5,4116.1 775.5,4116.1" fill="#00ff00"/>
<polygon points="898.6,4050.2 914.6,4078.8 882.6,4078.8" fill="#00ff00"/>
<polygon points="1011.4,4010.2 1027.4,4038.8 995.4,4038.8" fill="#00ff00"/>
<polygon points="1122.9,3971.8 1138.9,4000.4 1106.9,4000.4" fill="#00ff00"/>
<polygon points="1227.2,3933 1243.2,3961.6 1211.2,3961.6" fill="#00ff00"/>
<polygon points="1329.9,3893 1345.9,3921.6 1313.9,3921.6" fill="#00ff00"/>
<polygon points="1434.2,3846 1450.2,3874.6 1418.2,3874.6" fill="#00ff00"/>
<polygon points="1538.5,3788.9 1554.5,3817.5 1522.5,3817.5" fill="#00ff00"/>
<polygon points="1641.6,3724.5 1657.6,3753.1 1625.6,3753.1" fill="#00ff00"/>
<polygon points="1742.8,3641.8 1758.8,3670.4 1726.8,3670.4" fill="#00ff00"/>
<polygon points="1847.1,3540.1 1863.1,3568.7 1831.1,3568.7" fill="#00ff00"/>
<polygon points="511.4,4215.2 527.4,4243.8 495.4,4243.8" fill="#00ff00"/>
<polygon points="615.1,4175 631.1,4203.6 599.1,4203.6" fill="#00ff00"/>
<polygon points="717.2,4134.5 733.2,4163.1 701.2,4163.1" fill="#00ff00"/>
<polygon points="827.1,4100.3 843.1,4128.9 811.1,4128.9" fill="#00ff00"/>
<polygon points="953,4064.6 969,4093.2 937,4093.2" fill="#00ff00"/>
<polygon points="1070.1,4025.8 1086.1,4054.4 1054.1,4054.4" fill="#00ff00"/>
<polygon points="1180,3988.9 1196,4017.5 1164,4017.5" fill="#00ff00"/>
<polygon points="1284.3,3948.9 1300.3,3977.5 1268.3,3977.5" fill="#00ff00"/>
<polygon points="1387.1,3907.4 1403.1,3936 1371.1,3936" fill="#00ff00"/>
<polygon points="1491.4,3854.5 1507.4,3883.1 1475.4,3883.1" fill="#00ff00"/>
<polygon points="1595.7,3790.2 1611.7,3818.8 1579.7,3818.8" fill="#00ff00"/>
<polygon points="1698.4,3710.2 1714.4,3738.8 1682.4,3738.8" fill="#00ff00"/>
<polygon points="1802.7,3606 1818.7,3634.6 1786.7,3634.6" fill="#00ff00"/>
<polygon points="345.5,4243.9 361.5,4272.5 329.5,4272.5" fill="#00ff00"/>
<path d="M306.5,4268C320,4267.6 361.7,4270.5 387.7,4265.5C413.7,4260.5 432.5,4250.6 462.6,4237.8C492.8,4225 533.7,4206.1 568.5,4188.5C603.3,4170.9 637.3,4149.7 671.6,4132.2C705.9,4114.7 740.1,4099.4 774.3,4083.6C808.6,4067.9 842.6,4053.1 877.1,4037.9C911.6,4022.6 946.6,4007.1 981.4,3992.1C1016.1,3977.1 1051.2,3962.8 1085.7,3947.8C1120.2,3932.8 1153.4,3917.5 1188.4,3902C1223.5,3886.6 1260.8,3871.9 1295.9,3855C1330.9,3838.1 1364.1,3819.5 1398.6,3800.7C1433.1,3781.9 1468.4,3763.7 1502.9,3742.1C1537.4,3720.4 1571.2,3696.6 1605.7,3670.6C1640.2,3644.7 1675.5,3618.3 1710,3586.4C1744.5,3554.5 1784.6,3511.4 1812.7,3479.2C1840.8,3447.1 1867.6,3407.8 1878.6,3393.5" fill="none" stroke="#9a9ad8" stroke-width="2.6" stroke-linejoin="round"/>
<path d="M1878.6,3393.5C1871.2,3404.2 1859,3425.4 1834.3,3457.9C1809.5,3490.3 1764.7,3550.5 1730,3587.9C1695.2,3625.3 1660.2,3653.9 1625.7,3682.2C1591.1,3710.5 1557.4,3734.6 1522.9,3757.9C1488.4,3781.2 1453.4,3802.3 1418.6,3822.1C1383.8,3841.8 1348.8,3859.2 1314.3,3876.4C1279.8,3893.5 1246.3,3909.7 1211.5,3924.9C1176.8,3940.2 1140.4,3953.4 1105.7,3967.9C1070.9,3982.5 1037.2,3997.4 1002.9,4012.2C968.6,4027 934.4,4041 899.9,4056.5C865.3,4071.9 830.3,4089.3 795.6,4105C760.8,4120.7 726.5,4135.4 691.6,4150.8C656.6,4166.1 620.9,4181.3 585.7,4197.1C550.5,4212.9 510,4233.8 480.1,4245.6C450.3,4257.4 418.7,4264.3 406.4,4268" fill="none" stroke="#9a9ad8" stroke-width="2.6" stroke-linejoin="round"/>
<polygon points="462.6,4256.9 478.6,4228.3 446.6,4228.3" fill="#0000ff"/>
<polygon points="568.5,4207.6 584.5,4179 552.5,4179" fill="#0000ff"/>
<polygon points="671.6,4151.2 687.6,4122.6 655.6,4122.6" fill="#0000ff"/>
<polygon points="774.3,4102.7 790.3,4074.1 758.3,4074.1" fill="#0000ff"/>
<polygon points="877.1,4056.9 893.1,4028.3 861.1,4028.3" fill="#0000ff"/>
<polygon points="981.4,4011.1 997.4,3982.5 965.4,3982.5" fill="#0000ff"/>
<polygon points="1085.7,3966.9 1101.7,3938.3 1069.7,3938.3" fill="#0000ff"/>
<polygon points="1188.4,3921.1 1204.4,3892.5 1172.4,3892.5" fill="#0000ff"/>
<polygon points="1295.9,3874.1 1311.9,3845.5 1279.9,3845.5" fill="#0000ff"/>
<polygon points="1398.6,3819.7 1414.6,3791.1 1382.6,3791.1" fill="#0000ff"/>
<polygon points="1502.9,3761.1 1518.9,3732.5 1486.9,3732.5" fill="#0000ff"/>
<polygon points="1605.7,3689.7 1621.7,3661.1 1589.7,3661.1" fill="#0000ff"/>
<polygon points="1710,3605.4 1726,3576.8 1694,3576.8" fill="#0000ff"/>
<polygon points="1812.7,3498.3 1828.7,3469.7 1796.7,3469.7" fill="#0000ff"/>
<polygon points="480.1,4264.7 496.1,4236.1 464.1,4236.1" fill="#0000ff"/>
<polygon points="585.7,4216.1 601.7,4187.5 569.7,4187.5" fill="#0000ff"/>
<polygon points="691.6,4169.9 707.6,4141.3 675.6,4141.3" fill="#0000ff"/>
<polygon points="795.6,4124.1 811.6,4095.5 779.6,4095.5" fill="#0000ff"/>
<polygon points="899.9,4075.5 915.9,4046.9 883.9,4046.9" fill="#0000ff"/>
<polygon points="1002.9,4031.3 1018.9,4002.7 986.9,4002.7" fill="#0000ff"/>
<polygon points="1105.7,3987 1121.7,3958.4 1089.7,3958.4" fill="#0000ff"/>
<polygon points="1211.5,3944 1227.5,3915.4 1195.5,3915.4" fill="#0000ff"/>
<polygon points="1314.3,3895.5 1330.3,3866.9 1298.3,3866.9" fill="#0000ff"/>
<polygon points="1418.6,3841.1 1434.6,3812.5 1402.6,3812.5" fill="#0000ff"/>
<polygon points="1522.9,3777 1538.9,3748.4 1506.9,3748.4" fill="#0000ff"/>
<polygon points="1625.7,3701.3 1641.7,3672.7 1609.7,3672.7" fill="#0000ff"/>
<polygon points="1730,3607 1746,3578.4 1714,3578.4" fill="#0000ff"/>
<polygon points="1834.3,3476.9 1850.3,3448.3 1818.3,3448.3" fill="#0000ff"/>
<path d="M325.9,4264.2C337.2,4264.4 368.8,4270.9 393.9,4265.5C419.1,4260 447,4247.2 477,4231.5C507,4215.9 540.3,4191.3 574.1,4171.4C608,4151.5 645.2,4130.5 680,4112.1C714.8,4093.6 748.9,4077.4 782.8,4060.7C816.6,4044.1 849.4,4028.2 883,4012.2C916.6,3996.2 950.4,3980.4 984.2,3964.9C1018,3949.4 1051.4,3935.1 1085.7,3919.4C1120,3903.7 1155.2,3887 1190,3870.6C1224.8,3854.2 1259.8,3838.7 1294.3,3820.8C1328.8,3802.9 1362.5,3784.2 1397.1,3763.5C1431.6,3742.7 1467.1,3720.8 1501.4,3696.5C1535.7,3672.3 1568.6,3646.7 1602.9,3617.8C1637.2,3589 1672.2,3559.9 1707.2,3523.5C1742.1,3487.1 1783.7,3437.3 1812.7,3399.2C1841.8,3361.2 1870,3312.5 1881.4,3295.1" fill="none" stroke="#9af2f2" stroke-width="2.6" stroke-linejoin="round"/>
<path d="M1881.4,3295.1C1875.2,3306.3 1867.8,3325.4 1844.3,3362C1820.7,3398.7 1774.7,3470.9 1740,3514.9C1705.2,3559 1670.4,3593.8 1635.6,3626.4C1600.9,3659 1566.1,3684.7 1531.3,3710.6C1496.6,3736.6 1461.5,3760.4 1427,3782.1C1392.5,3803.7 1358.8,3822.1 1324.3,3840.7C1289.8,3859.2 1254.5,3877.1 1220,3893.5C1185.5,3909.9 1152,3924 1117.2,3939.3C1082.5,3954.5 1046.1,3969.6 1011.4,3985C976.6,4000.5 943.4,4016.1 908.6,4032.1C873.8,4048 837.8,4064.4 802.7,4080.6C767.7,4096.8 732.7,4112.4 698.4,4129.2C664.1,4145.9 631.4,4163.7 596.9,4181.2C562.4,4198.7 522.1,4219.8 491.4,4234.3C460.7,4248.8 425.8,4262.4 412.7,4268" fill="none" stroke="#9af2f2" stroke-width="2.6" stroke-linejoin="round"/>
<polygon points="325.9,4247.2 342.9,4264.2 325.9,4281.2 308.9,4264.2" fill="#00ffff"/>
<polygon points="477,4214.5 494,4231.5 477,4248.5 460,4231.5" fill="#00ffff"/>
<polygon points="574.1,4154.4 591.1,4171.4 574.1,4188.4 557.1,4171.4" fill="#00ffff"/>
<polygon points="680,4095.1 697,4112.1 680,4129.1 663,4112.1" fill="#00ffff"/>
<polygon points="782.8,4043.7 799.8,4060.7 782.8,4077.7 765.8,4060.7" fill="#00ffff"/>
<polygon points="883,3995.2 900,4012.2 883,4029.2 866,4012.2" fill="#00ffff"/>
<polygon points="984.2,3947.9 1001.2,3964.9 984.2,3981.9 967.2,3964.9" fill="#00ffff"/>
<polygon points="1085.7,3902.4 1102.7,3919.4 1085.7,3936.4 1068.7,3919.4" fill="#00ffff"/>
<polygon points="1190,3853.6 1207,3870.6 1190,3887.6 1173,3870.6" fill="#00ffff"/>
<polygon points="1294.3,3803.8 1311.3,3820.8 1294.3,3837.8 1277.3,3820.8" fill="#00ffff"/>
<polygon points="1397.1,3746.5 1414.1,3763.5 1397.1,3780.5 1380.1,3763.5" fill="#00ffff"/>
<polygon points="1501.4,3679.5 1518.4,3696.5 1501.4,3713.5 1484.4,3696.5" fill="#00ffff"/>
<polygon points="1602.9,3600.8 1619.9,3617.8 1602.9,3634.8 1585.9,3617.8" fill="#00ffff"/>
<polygon points="1707.2,3506.5 1724.2,3523.5 1707.2,3540.5 1690.2,3523.5" fill="#00ffff"/>
<polygon points="1812.7,3382.2 1829.7,3399.2 1812.7,3416.2 1795.7,3399.2" fill="#00ffff"/>
<polygon points="491.4,4217.3 508.4,4234.3 491.4,4251.3 474.4,4234.3" fill="#00ffff"/>
<polygon points="596.9,4164.2 613.9,4181.2 596.9,4198.2 579.9,4181.2" fill="#00ffff"/>
<polygon points="698.4,4112.2 715.4,4129.2 698.4,4146.2 681.4,4129.2" fill="#00ffff"/>
<polygon points="802.7,4063.6 819.7,4080.6 802.7,4097.6 785.7,4080.6" fill="#00ffff"/>
<polygon points="908.6,4015.1 925.6,4032.1 908.6,4049.1 891.6,4032.1" fill="#00ffff"/>
<polygon points="1011.4,3968 1028.4,3985 1011.4,4002 994.4,3985" fill="#00ffff"/>
<polygon points="1117.2,3922.3 1134.2,3939.3 1117.2,3956.3 1100.2,3939.3" fill="#00ffff"/>
<polygon points="1220,3876.5 1237,3893.5 1220,3910.5 1203,3893.5" fill="#00ffff"/>
<polygon points="1324.3,3823.7 1341.3,3840.7 1324.3,3857.7 1307.3,3840.7" fill="#00ffff"/>
<polygon points="1427,3765.1 1444,3782.1 1427,3799.1 1410,3782.1" fill="#00ffff"/>
<polygon points="1531.3,3693.6 1548.3,3710.6 1531.3,3727.6 1514.3,3710.6" fill="#00ffff"/>
<polygon points="1635.6,3609.4 1652.6,3626.4 1635.6,3643.4 1618.6,3626.4" fill="#00ffff"/>
<polygon points="1740,3497.9 1757,3514.9 1740,3531.9 1723,3514.9" fill="#00ffff"/>
<polygon points="1844.3,3345 1861.3,3362 1844.3,3379 1827.3,3362" fill="#00ffff"/>
<path d="M341.5,4267C349.2,4266.7 368.2,4272.8 387.7,4265.5C407.2,4258.1 429.9,4240.1 458.6,4223C487.3,4205.9 525.8,4182.3 560.1,4162.9C594.4,4143.5 630.1,4124.5 664.4,4106.5C698.6,4088.5 731.3,4072.6 765.6,4055C799.8,4037.3 834.9,4018 869.9,4000.6C904.9,3983.3 941,3966.8 975.8,3950.8C1010.5,3934.9 1044,3921.5 1078.5,3905.1C1113,3888.6 1147.8,3869.9 1182.8,3852.2C1217.8,3834.6 1253.9,3817 1288.7,3799.2C1323.5,3781.3 1356.9,3765.3 1391.4,3745.1C1425.9,3724.9 1461,3701.7 1495.7,3677.9C1530.5,3654.1 1565.7,3630.4 1600,3602.2C1634.3,3574.1 1667.2,3544.4 1701.5,3509.2C1735.8,3473.9 1776.1,3427.8 1805.9,3390.7C1835.6,3353.6 1867.5,3303.7 1879.9,3286.3" fill="none" stroke="#f49af0" stroke-width="2.6" stroke-linejoin="round"/>
<path d="M1879.9,3286.3C1874.2,3295.2 1868.7,3305.6 1845.8,3339.4C1823,3373.2 1777.3,3445.7 1742.8,3489.3C1708.2,3532.8 1673.2,3568.1 1638.5,3600.7C1603.7,3633.3 1568.7,3658.8 1534.2,3685C1499.6,3711.2 1466.1,3735.8 1431.4,3757.9C1396.7,3780.1 1360.4,3799 1325.8,3817.8C1291.3,3836.6 1258.7,3853.7 1224.3,3870.6C1190,3887.5 1154.8,3903.4 1120,3919.4C1085.3,3935.4 1049.8,3950.6 1015.7,3966.4C981.6,3982.3 949.5,3998 915.5,4014.5C881.4,4030.9 846.5,4048.5 811.5,4065C776.5,4081.5 740.3,4096.6 705.6,4113.6C670.9,4130.5 637.4,4149.2 603.2,4166.9C568.9,4184.6 535.4,4203.6 500.1,4220C464.8,4236.3 413.3,4257 391.4,4265C369.6,4273 372.7,4267.5 369,4268" fill="none" stroke="#f49af0" stroke-width="2.6" stroke-linejoin="round"/>
<polygon points="322.4,4267 351,4251 351,4283" fill="#ff00ff"/>
<polygon points="439.5,4223 468.1,4207 468.1,4239" fill="#ff00ff"/>
<polygon points="541,4162.9 569.6,4146.9 569.6,4178.9" fill="#ff00ff"/>
<polygon points="645.3,4106.5 673.9,4090.5 673.9,4122.5" fill="#ff00ff"/>
<polygon points="746.5,4055 775.1,4039 775.1,4071" fill="#ff00ff"/>
<polygon points="850.8,4000.6 879.4,3984.6 879.4,4016.6" fill="#ff00ff"/>
<polygon points="956.7,3950.8 985.3,3934.8 985.3,3966.8" fill="#ff00ff"/>
<polygon points="1059.4,3905.1 1088,3889.1 1088,3921.1" fill="#ff00ff"/>
<polygon points="1163.7,3852.2 1192.3,3836.2 1192.3,3868.2" fill="#ff00ff"/>
<polygon points="1269.6,3799.2 1298.2,3783.2 1298.2,3815.2" fill="#ff00ff"/>
<polygon points="1372.4,3745.1 1401,3729.1 1401,3761.1" fill="#ff00ff"/>
<polygon points="1476.7,3677.9 1505.3,3661.9 1505.3,3693.9" fill="#ff00ff"/>
<polygon points="1581,3602.2 1609.6,3586.2 1609.6,3618.2" fill="#ff00ff"/>
<polygon points="1682.5,3509.2 1711.1,3493.2 1711.1,3525.2" fill="#ff00ff"/>
<polygon points="1786.8,3390.7 1815.4,3374.7 1815.4,3406.7" fill="#ff00ff"/>
<polygon points="372.4,4265 401,4249 401,4281" fill="#ff00ff"/>
<polygon points="481.1,4220 509.7,4204 509.7,4236" fill="#ff00ff"/>
<polygon points="584.1,4166.9 612.7,4150.9 612.7,4182.9" fill="#ff00ff"/>
<polygon points="686.6,4113.6 715.2,4097.6 715.2,4129.6" fill="#ff00ff"/>
<polygon points="792.4,4065 821,4049 821,4081" fill="#ff00ff"/>
<polygon points="896.4,4014.5 925,3998.5 925,4030.5" fill="#ff00ff"/>
<polygon points="996.7,3966.4 1025.3,3950.4 1025.3,3982.4" fill="#ff00ff"/>
<polygon points="1101,3919.4 1129.6,3903.4 1129.6,3935.4" fill="#ff00ff"/>
<polygon points="1205.3,3870.6 1233.9,3854.6 1233.9,3886.6" fill="#ff00ff"/>
<polygon points="1306.8,3817.8 1335.4,3801.8 1335.4,3833.8" fill="#ff00ff"/>
<polygon points="1412.3,3757.9 1440.9,3741.9 1440.9,3773.9" fill="#ff00ff"/>
<polygon points="1515.1,3685 1543.7,3669 1543.7,3701" fill="#ff00ff"/>
<polygon points="1619.4,3600.7 1648,3584.7 1648,3616.7" fill="#ff00ff"/>
<polygon points="1723.7,3489.3 1752.3,3473.3 1752.3,3505.3" fill="#ff00ff"/>
<polygon points="1826.8,3339.4 1855.4,3323.4 1855.4,3355.4" fill="#ff00ff"/>
<path d="M308.7,4267C322.4,4266.7 368.4,4270.2 390.8,4265.5C413.2,4260.7 417.2,4252.8 443,4238.6C468.8,4224.3 511.9,4199.1 545.7,4180C579.5,4160.8 611.6,4142.3 645.7,4123.6C679.7,4104.9 715.2,4086.4 750,4067.8C784.7,4049.2 819.8,4029.8 854.3,4012.2C888.8,3994.6 922.7,3979.1 957,3962.2C991.3,3945.2 1025.8,3928 1060.1,3910.6C1094.4,3893.2 1129.2,3875.7 1162.8,3857.8C1196.5,3839.8 1227.8,3821.5 1262.1,3802.9C1296.4,3784.4 1333.8,3767 1368.6,3746.3C1403.5,3725.7 1437.3,3703.5 1471.4,3679.2C1505.4,3654.9 1538.4,3629.3 1572.9,3600.7C1607.4,3572.2 1643.9,3543.2 1678.4,3507.9C1712.9,3472.7 1747.3,3432.1 1779.9,3389.2C1812.6,3346.3 1858.5,3273.7 1874.2,3250.6" fill="none" stroke="#f2f29a" stroke-width="2.6" stroke-linejoin="round"/>
<path d="M1874.2,3250.6C1856.4,3281.3 1802.4,3382.8 1767.1,3435C1731.9,3487.1 1696.9,3525.8 1662.8,3563.5C1628.8,3601.1 1596.9,3631.3 1562.9,3660.8C1528.8,3690.4 1493.3,3717 1458.6,3740.8C1423.8,3764.6 1388.9,3783.6 1354.3,3803.7C1319.6,3823.8 1284.9,3842.8 1250.6,3861.5C1216.3,3880.3 1182.6,3898.6 1148.5,3916.4C1114.3,3934.1 1080.4,3950.2 1045.7,3967.9C1011,3985.7 974.8,4004.7 940.5,4022.8C906.2,4040.8 873.8,4058.6 839.9,4076.3C806,4094.1 771.5,4111.6 737.2,4129.2C702.8,4146.7 668.6,4165.2 633.8,4181.7C599,4198.3 565.6,4214.6 528.5,4228.5C491.5,4242.4 434.9,4258.4 411.4,4265C388,4271.6 391.7,4267.5 387.7,4268" fill="none" stroke="#f2f29a" stroke-width="2.6" stroke-linejoin="round"/>
<polygon points="327.8,4267 299.2,4251 299.2,4283" fill="#ffff00"/>
<polygon points="462,4238.6 433.4,4222.6 433.4,4254.6" fill="#ffff00"/>
<polygon points="564.8,4180 536.2,4164 536.2,4196" fill="#ffff00"/>
<polygon points="664.7,4123.6 636.1,4107.6 636.1,4139.6" fill="#ffff00"/>
<polygon points="769,4067.8 740.4,4051.8 740.4,4083.8" fill="#ffff00"/>
<polygon points="873.3,4012.2 844.7,3996.2 844.7,4028.2" fill="#ffff00"/>
<polygon points="976.1,3962.2 947.5,3946.2 947.5,3978.2" fill="#ffff00"/>
<polygon points="1079.1,3910.6 1050.5,3894.6 1050.5,3926.6" fill="#ffff00"/>
<polygon points="1181.9,3857.8 1153.3,3841.8 1153.3,3873.8" fill="#ffff00"/>
<polygon points="1281.2,3802.9 1252.6,3786.9 1252.6,3818.9" fill="#ffff00"/>
<polygon points="1387.7,3746.3 1359.1,3730.3 1359.1,3762.3" fill="#ffff00"/>
<polygon points="1490.4,3679.2 1461.8,3663.2 1461.8,3695.2" fill="#ffff00"/>
<polygon points="1591.9,3600.7 1563.3,3584.7 1563.3,3616.7" fill="#ffff00"/>
<polygon points="1697.5,3507.9 1668.9,3491.9 1668.9,3523.9" fill="#ffff00"/>
<polygon points="1799,3389.2 1770.4,3373.2 1770.4,3405.2" fill="#ffff00"/>
<polygon points="1893.3,3250.6 1864.7,3234.6 1864.7,3266.6" fill="#ffff00"/>
<polygon points="430.5,4265 401.9,4249 401.9,4281" fill="#ffff00"/>
<polygon points="547.6,4228.5 519,4212.5 519,4244.5" fill="#ffff00"/>
<polygon points="652.9,4181.7 624.3,4165.7 624.3,4197.7" fill="#ffff00"/>
<polygon points="756.2,4129.2 727.6,4113.2 727.6,4145.2" fill="#ffff00"/>
<polygon points="859,4076.3 830.4,4060.3 830.4,4092.3" fill="#ffff00"/>
<polygon points="959.5,4022.8 930.9,4006.8 930.9,4038.8" fill="#ffff00"/>
<polygon points="1064.8,3967.9 1036.2,3951.9 1036.2,3983.9" fill="#ffff00"/>
<polygon points="1167.5,3916.4 1138.9,3900.4 1138.9,3932.4" fill="#ffff00"/>
<polygon points="1269.6,3861.5 1241,3845.5 1241,3877.5" fill="#ffff00"/>
<polygon points="1373.3,3803.7 1344.7,3787.7 1344.7,3819.7" fill="#ffff00"/>
<polygon points="1477.6,3740.8 1449,3724.8 1449,3756.8" fill="#ffff00"/>
<polygon points="1581.9,3660.8 1553.3,3644.8 1553.3,3676.8" fill="#ffff00"/>
<polygon points="1681.9,3563.5 1653.3,3547.5 1653.3,3579.5" fill="#ffff00"/>
<polygon points="1786.2,3435 1757.6,3419 1757.6,3451" fill="#ffff00"/>
</g>
<rect x="306.5" y="3010.4" width="1717.7" height="1257.6" fill="none" stroke="#1c1c1c" stroke-width="4.3"/>
<line x1="282.5" y1="4268" x2="306.5" y2="4268" stroke="#1c1c1c" stroke-width="4.3"/>
<line x1="293.5" y1="4142.2" x2="306.5" y2="4142.2" stroke="#1c1c1c" stroke-width="4.3"/>
<line x1="282.5" y1="4016.5" x2="306.5" y2="4016.5" stroke="#1c1c1c" stroke-width="4.3"/>
<line x1="293.5" y1="3890.7" x2="306.5" y2="3890.7" stroke="#1c1c1c" stroke-width="4.3"/>
<line x1="282.5" y1="3765" x2="306.5" y2="3765" stroke="#1c1c1c" stroke-width="4.3"/>
<line x1="293.5" y1="3639.2" x2="306.5" y2="3639.2" stroke="#1c1c1c" stroke-width="4.3"/>
<line x1="282.5" y1="3513.4" x2="306.5" y2="3513.4" stroke="#1c1c1c" stroke-width="4.3"/>
<line x1="293.5" y1="3387.7" x2="306.5" y2="3387.7" stroke="#1c1c1c" stroke-width="4.3"/>
<line x1="282.5" y1="3261.9" x2="306.5" y2="3261.9" stroke="#1c1c1c" stroke-width="4.3"/>
<line x1="293.5" y1="3136.2" x2="306.5" y2="3136.2" stroke="#1c1c1c" stroke-width="4.3"/>
<line x1="282.5" y1="3010.4" x2="306.5" y2="3010.4" stroke="#1c1c1c" stroke-width="4.3"/>
<line x1="306.5" y1="4268" x2="306.5" y2="4292" stroke="#1c1c1c" stroke-width="4.3"/>
<line x1="462.6" y1="4268" x2="462.6" y2="4281" stroke="#1c1c1c" stroke-width="4.3"/>
<line x1="618.8" y1="4268" x2="618.8" y2="4292" stroke="#1c1c1c" stroke-width="4.3"/>
<line x1="775" y1="4268" x2="775" y2="4281" stroke="#1c1c1c" stroke-width="4.3"/>
<line x1="931.1" y1="4268" x2="931.1" y2="4292" stroke="#1c1c1c" stroke-width="4.3"/>
<line x1="1087.2" y1="4268" x2="1087.2" y2="4281" stroke="#1c1c1c" stroke-width="4.3"/>
<line x1="1243.4" y1="4268" x2="1243.4" y2="4292" stroke="#1c1c1c" stroke-width="4.3"/>
<line x1="1399.5" y1="4268" x2="1399.5" y2="4281" stroke="#1c1c1c" stroke-width="4.3"/>
<line x1="1555.7" y1="4268" x2="1555.7" y2="4292" stroke="#1c1c1c" stroke-width="4.3"/>
<line x1="1711.8" y1="4268" x2="1711.8" y2="4281" stroke="#1c1c1c" stroke-width="4.3"/>
<line x1="1868" y1="4268" x2="1868" y2="4292" stroke="#1c1c1c" stroke-width="4.3"/>
<line x1="2024.2" y1="4268" x2="2024.2" y2="4281" stroke="#1c1c1c" stroke-width="4.3"/>
<g font-size="51"><text x="266" y="4281.2" text-anchor="end">0</text><text x="266" y="4029.7" text-anchor="end">100</text><text x="266" y="3778.2" text-anchor="end">200</text><text x="266" y="3526.6" text-anchor="end">300</text><text x="266" y="3275.1" text-anchor="end">400</text><text x="266" y="3023.6" text-anchor="end">500</text><text x="305.5" y="4344.7" text-anchor="middle">0</text><text x="617.8" y="4344.7" text-anchor="middle">10</text><text x="930.1" y="4344.7" text-anchor="middle">20</text><text x="1242.4" y="4344.7" text-anchor="middle">30</text><text x="1554.7" y="4344.7" text-anchor="middle">40</text><text x="1867" y="4344.7" text-anchor="middle">50</text></g>
<text x="1163.6" y="4442" font-weight="bold" font-size="54" text-anchor="middle">Compression %</text>
<text font-weight="bold" font-size="54.5" text-anchor="middle" textLength="325.6" lengthAdjust="spacingAndGlyphs" transform="translate(105.8,3674.9) scale(1.05,1) rotate(-90)">Stress (kPa)</text>
<text x="55.8" y="3053.8" font-weight="bold" font-size="53" letter-spacing="2">(c)</text>
<line x1="328" y1="3055.8" x2="454" y2="3055.8" stroke="#858585" stroke-width="3"/>
<rect x="379.2" y="3044.1" width="23.5" height="23.5" fill="#000000"/>
<text x="469" y="3073.2" font-weight="bold" font-size="53">S0</text>
<line x1="328" y1="3125.4" x2="454" y2="3125.4" stroke="#f49a9a" stroke-width="3"/>
<circle cx="391" cy="3125.4" r="13.5" fill="#ff0000"/>
<text x="469" y="3142.8" font-weight="bold" font-size="53">S0.1</text>
<line x1="328" y1="3195" x2="454" y2="3195" stroke="#9aeea0" stroke-width="3"/>
<polygon points="391,3175.9 407,3204.5 375,3204.5" fill="#00ff00"/>
<text x="469" y="3212.4" font-weight="bold" font-size="53">S0.25</text>
<line x1="328" y1="3264.6" x2="454" y2="3264.6" stroke="#9a9ad8" stroke-width="3"/>
<polygon points="391,3283.7 407,3255.1 375,3255.1" fill="#0000ff"/>
<text x="469" y="3282" font-weight="bold" font-size="53">S0.5</text>
<line x1="328" y1="3334.2" x2="454" y2="3334.2" stroke="#9af2f2" stroke-width="3"/>
<polygon points="391,3317.2 408,3334.2 391,3351.2 374,3334.2" fill="#00ffff"/>
<text x="469" y="3351.6" font-weight="bold" font-size="53">S1</text>
<line x1="328" y1="3403.8" x2="454" y2="3403.8" stroke="#f49af0" stroke-width="3"/>
<polygon points="371.9,3403.8 400.5,3387.8 400.5,3419.8" fill="#ff00ff"/>
<text x="469" y="3421.2" font-weight="bold" font-size="53">S1.5</text>
<line x1="328" y1="3473.4" x2="454" y2="3473.4" stroke="#f2f29a" stroke-width="3"/>
<polygon points="410.1,3473.4 381.5,3457.4 381.5,3489.4" fill="#ffff00"/>
<text x="469" y="3490.8" font-weight="bold" font-size="53">S2</text>
<text font-weight="bold" font-size="63"><tspan x="1747" y="3087.6">3</tspan><tspan x="1781.5" y="3051.6" font-size="39">rd</tspan><tspan x="1837.5" y="3087.6" font-size="62" textLength="158.5" lengthAdjust="spacingAndGlyphs">cycle</tspan></text>
</svg></body></html>
